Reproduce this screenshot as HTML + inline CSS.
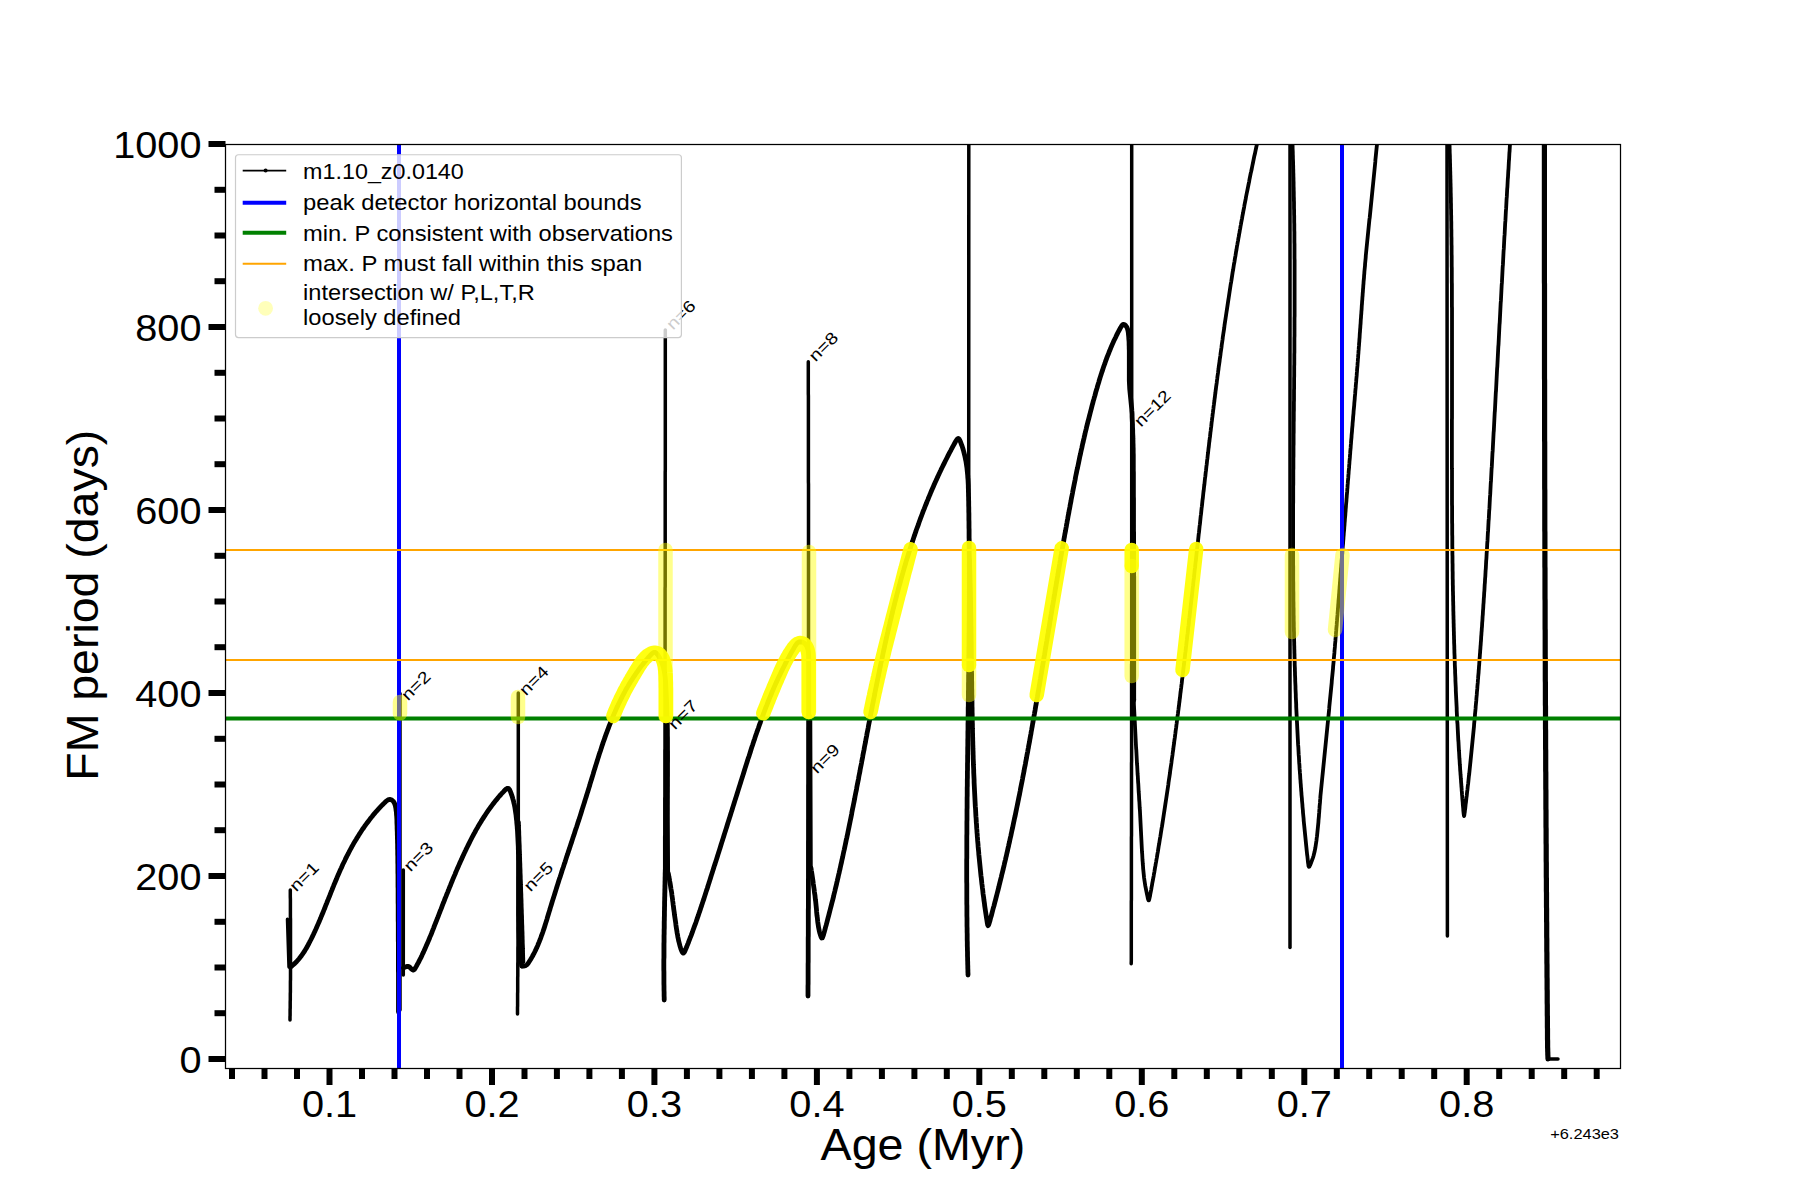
<!DOCTYPE html><html><head><meta charset="utf-8"><style>html,body{margin:0;padding:0;background:#fff;width:1800px;height:1200px;overflow:hidden}svg{display:block}text{font-family:"Liberation Sans",sans-serif;fill:#000}</style></head><body>
<svg width="1800" height="1200" viewBox="0 0 1800 1200">
<rect width="1800" height="1200" fill="#fff"/>
<defs><clipPath id="ax"><rect x="225.5" y="144.3" width="1395" height="923.7"/></clipPath></defs>
<g clip-path="url(#ax)" fill="none" stroke="#000" stroke-width="4.8" stroke-linejoin="round" stroke-linecap="round">
<path d="M290.0,1020.0 L290.0,1016.8 L290.1,1015.4 L290.1,1013.7 L290.1,1011.8 L290.1,1009.9 L290.2,1007.9 L290.2,1005.9 L290.2,1003.9 L290.2,1001.9 L290.3,999.8 L290.3,997.8 L290.3,995.8 L290.3,993.8 L290.4,991.8 L290.4,989.8 L290.4,987.8 L290.4,985.7 L290.4,983.7 L290.4,981.7 L290.5,979.7 L290.5,977.7 L290.5,975.7 L290.5,973.6 L290.5,971.6 L290.5,969.6 L290.5,967.6 L290.5,965.6 L290.5,963.6 L290.5,961.6 L290.5,959.5 L290.5,957.5 L290.5,955.5 L290.5,953.5 L290.5,951.5 L290.5,949.5 L290.5,947.4 L290.5,945.4 L290.5,943.4 L290.5,941.4 L290.5,939.4 L290.5,937.4 L290.5,935.3 L290.5,933.3 L290.5,931.3 L290.5,929.3 L290.5,927.3 L290.5,925.3 L290.5,923.3 L290.5,921.2 L290.5,919.2 L290.4,917.2 L290.4,915.2 L290.4,913.2 L290.4,911.2 L290.4,909.1 L290.4,907.1 L290.4,905.1 L290.4,903.1 L290.4,901.1 L290.4,899.1 L290.3,897.2 L290.3,895.5 L290.3,893.9 L290.3,892.5 L290.3,890.0" stroke-width="3.5"/>
<path d="M287.5,919.2 L289.0,967.0" stroke-width="3.5"/>
<path d="M290.5,967.0 L292.3,965.6 L293.6,964.4 L295.1,963.1 L296.5,961.7 L297.8,960.2 L299.1,958.7 L300.4,957.1 L301.6,955.5 L302.7,953.9 L303.9,952.2 L304.9,950.5 L306.0,948.8 L307.0,947.0 L307.9,945.3 L308.9,943.5 L309.8,941.7 L310.7,940.0 L311.6,938.2 L312.5,936.4 L313.4,934.5 L314.2,932.7 L315.1,930.9 L315.9,929.1 L316.7,927.3 L317.5,925.4 L318.3,923.6 L319.1,921.7 L319.9,919.9 L320.7,918.0 L321.4,916.2 L322.2,914.3 L323.0,912.5 L323.7,910.6 L324.5,908.8 L325.2,906.9 L325.9,905.0 L326.7,903.2 L327.4,901.3 L328.2,899.4 L328.9,897.6 L329.7,895.7 L330.4,893.8 L331.1,892.0 L331.9,890.1 L332.6,888.3 L333.4,886.4 L334.1,884.5 L334.9,882.7 L335.7,880.8 L336.5,879.0 L337.2,877.1 L338.0,875.3 L338.8,873.5 L339.6,871.6 L340.4,869.8 L341.3,868.0 L342.1,866.1 L342.9,864.3 L343.8,862.5 L344.7,860.7 L345.5,858.9 L346.4,857.1 L347.3,855.3 L348.3,853.5 L349.2,851.7 L350.1,850.0 L351.1,848.2 L352.0,846.4 L353.0,844.7 L354.0,842.9 L355.0,841.2 L356.1,839.5 L357.1,837.8 L358.2,836.1 L359.2,834.4 L360.3,832.7 L361.4,831.0 L362.5,829.3 L363.7,827.7 L364.8,826.0 L366.0,824.4 L367.2,822.8 L368.4,821.2 L369.6,819.6 L370.8,818.0 L372.1,816.5 L373.3,814.9 L374.6,813.4 L375.9,811.8 L377.3,810.3 L378.6,808.9 L380.0,807.4 L381.4,805.9 L382.8,804.5 L384.2,803.1 L385.6,801.7 L387.1,800.5 L388.6,799.6 L390.2,799.4 L391.8,800.0 L393.2,801.2 L394.3,802.8 L395.0,804.6 L395.5,806.5 L395.9,808.5 L396.1,810.4 L396.4,812.4 L396.5,814.4 L396.7,816.4 L396.8,818.4 L396.9,820.4 L396.9,822.4 L397.0,824.5 L397.1,826.5 L397.1,828.5 L397.2,830.5 L397.3,832.5 L397.3,834.5 L397.4,836.5 L397.4,838.5 L397.5,840.5 L397.5,842.5 L397.6,844.5 L397.6,846.5 L397.6,848.5 L397.7,850.5 L397.7,852.5 L397.7,854.5 L397.8,856.5 L397.8,858.5 L397.8,860.6 L397.8,862.6 L397.9,864.6 L397.9,866.6 L397.9,868.6 L397.9,870.6 L397.9,872.6 L398.0,874.6 L398.0,876.6 L398.0,878.6 L398.0,880.6 L398.0,882.6 L398.0,884.6 L398.0,886.6 L398.1,888.6 L398.1,890.6 L398.1,892.6 L398.1,894.7 L398.1,896.7 L398.1,898.7 L398.1,900.7 L398.1,902.7 L398.2,904.7 L398.2,906.7 L398.2,908.7 L398.2,910.7 L398.2,912.7 L398.2,914.7 L398.2,916.7 L398.2,918.7 L398.2,920.7 L398.3,922.7 L398.3,924.7 L398.3,926.7 L398.3,928.8 L398.3,930.8 L398.3,932.8 L398.3,934.8 L398.3,936.8 L398.3,938.8 L398.3,940.8 L398.4,942.8 L398.4,944.8 L398.4,946.8 L398.4,948.8 L398.4,950.8 L398.4,952.8 L398.4,954.8 L398.4,956.8 L398.4,958.8 L398.4,960.8 L398.4,962.9 L398.4,964.9 L398.4,966.9 L398.4,968.9 L398.4,970.9 L398.5,972.9 L398.5,974.9 L398.5,976.9 L398.5,978.9 L398.5,980.9 L398.5,982.9 L398.5,984.9 L398.5,986.9 L398.5,988.9 L398.5,990.9 L398.5,992.9 L398.5,994.9 L398.5,997.0 L398.5,999.0 L398.5,1001.0 L398.5,1003.0 L398.5,1005.0 L398.5,1007.0 L398.5,1008.9 L398.5,1010.4 L398.5,1012.0" stroke-width="4.8"/>
<path d="M400.0,693.5 L400.0,1010.0" stroke-width="3.5"/>
<path d="M403.3,870.0 L403.3,975.0" stroke-width="3.5"/>
<path d="M403.5,968.0 L405.4,966.9 L406.8,966.4 L408.3,966.4 L409.7,967.2 L410.9,968.5 L412.1,969.6 L413.2,970.1 L414.3,969.5 L415.3,968.1 L416.3,966.4 L417.2,964.7 L418.2,962.9 L419.1,961.1 L420.0,959.3 L420.9,957.6 L421.8,955.7 L422.6,953.9 L423.5,952.1 L424.3,950.3 L425.1,948.5 L425.9,946.6 L426.7,944.8 L427.5,943.0 L428.3,941.1 L429.1,939.3 L429.8,937.4 L430.6,935.6 L431.4,933.7 L432.1,931.8 L432.8,930.0 L433.6,928.1 L434.3,926.2 L435.0,924.4 L435.8,922.5 L436.5,920.6 L437.2,918.8 L438.0,916.9 L438.7,915.0 L439.4,913.2 L440.1,911.3 L440.9,909.4 L441.6,907.6 L442.3,905.7 L443.0,903.8 L443.8,902.0 L444.5,900.1 L445.2,898.2 L446.0,896.4 L446.7,894.5 L447.5,892.6 L448.2,890.8 L449.0,888.9 L449.7,887.0 L450.5,885.2 L451.2,883.3 L452.0,881.5 L452.7,879.6 L453.5,877.8 L454.3,875.9 L455.1,874.1 L455.8,872.2 L456.6,870.4 L457.4,868.5 L458.2,866.7 L459.0,864.9 L459.8,863.0 L460.6,861.2 L461.5,859.4 L462.3,857.5 L463.1,855.7 L464.0,853.9 L464.8,852.1 L465.7,850.3 L466.5,848.5 L467.4,846.7 L468.3,844.9 L469.2,843.1 L470.1,841.3 L471.0,839.5 L471.9,837.7 L472.9,835.9 L473.8,834.2 L474.8,832.4 L475.7,830.6 L476.7,828.9 L477.7,827.2 L478.7,825.4 L479.7,823.7 L480.8,822.0 L481.8,820.3 L482.9,818.6 L484.0,816.9 L485.1,815.2 L486.2,813.5 L487.3,811.9 L488.5,810.2 L489.6,808.6 L490.8,807.0 L492.0,805.4 L493.2,803.8 L494.4,802.2 L495.7,800.6 L497.0,799.1 L498.2,797.5 L499.5,796.0 L500.9,794.5 L502.2,793.0 L503.6,791.6 L504.9,790.1 L506.3,788.9 L507.6,788.3 L508.7,788.6 L509.6,789.8 L510.4,791.5 L511.1,793.4 L511.8,795.3 L512.4,797.2 L512.9,799.1 L513.5,801.0 L513.9,803.0 L514.4,805.0 L514.8,806.9 L515.1,808.9 L515.4,810.9 L515.7,812.9 L516.0,814.8 L516.2,816.8 L516.4,818.8 L516.7,820.8 L516.8,822.8 L517.0,824.8 L517.2,826.8 L517.3,828.8 L517.5,830.8 L517.6,832.8 L517.7,834.8 L517.8,836.8 L517.9,838.8 L518.0,840.8 L518.1,842.8 L518.2,844.8 L518.3,846.8 L518.3,848.8 L518.4,850.8 L518.4,852.8 L518.5,854.8 L518.5,856.9 L518.5,858.9 L518.6,860.9 L518.6,862.9 L518.6,864.9 L518.6,866.9 L518.6,868.9 L518.6,870.9 L518.6,872.9 L518.6,874.9 L518.6,876.9 L518.6,878.9 L518.6,880.9 L518.6,882.9 L518.6,884.9 L518.6,886.9 L518.6,888.9 L518.6,890.9 L518.6,892.9 L518.6,894.9 L518.6,897.0 L518.6,899.0 L518.6,901.0 L518.6,903.0 L518.6,905.0 L518.6,907.0 L518.6,909.0 L518.6,911.0 L518.6,913.0 L518.6,915.0 L518.7,917.0 L518.7,919.0 L518.7,921.0 L518.8,923.0 L518.8,925.0 L518.9,927.0 L518.9,929.0 L519.0,931.0 L519.1,933.0 L519.2,935.0 L519.2,937.0 L519.3,939.0 L519.4,941.0 L519.6,943.0 L519.7,945.0 L519.8,947.0 L520.0,949.0 L520.1,951.0 L520.3,953.0 L520.5,955.0 L520.7,957.0 L520.9,959.0 L521.1,961.0 L521.3,962.9 L521.5,964.4 L521.7,966.0" stroke-width="4.8"/>
<path d="M518.3,693.0 L518.3,696.2 L518.3,697.6 L518.3,699.3 L518.3,701.1 L518.3,703.1 L518.3,705.1 L518.3,707.0 L518.3,709.1 L518.3,711.1 L518.3,713.1 L518.3,715.1 L518.3,717.1 L518.3,719.1 L518.3,721.1 L518.3,723.1 L518.3,725.1 L518.3,727.1 L518.3,729.1 L518.3,731.1 L518.3,733.1 L518.3,735.1 L518.3,737.1 L518.3,739.1 L518.3,741.2 L518.3,743.2 L518.3,745.2 L518.3,747.2 L518.3,749.2 L518.3,751.2 L518.3,753.2 L518.3,755.2 L518.3,757.2 L518.3,759.2 L518.3,761.2 L518.3,763.2 L518.3,765.2 L518.3,767.2 L518.3,769.2 L518.3,771.2 L518.3,773.3 L518.3,775.3 L518.3,777.3 L518.3,779.3 L518.3,781.3 L518.3,783.3 L518.3,785.3 L518.3,787.3 L518.3,789.3 L518.3,791.3 L518.3,793.3 L518.3,795.3 L518.3,797.3 L518.3,799.3 L518.3,801.3 L518.3,803.3 L518.3,805.4 L518.3,807.4 L518.3,809.4 L518.3,811.4 L518.3,813.4 L518.3,815.4 L518.3,817.4 L518.3,819.4 L518.3,821.4 L518.3,823.4 L518.3,825.4 L518.3,827.4 L518.3,829.4 L518.3,831.4 L518.3,833.4 L518.3,835.4 L518.3,837.5 L518.3,839.5 L518.3,841.5 L518.3,843.5 L518.3,845.5 L518.3,847.5 L518.3,849.5 L518.3,851.5 L518.3,853.5 L518.3,855.5 L518.3,857.5 L518.3,859.5 L518.3,861.5 L518.3,863.5 L518.3,865.5 L518.3,867.5 L518.3,869.6 L518.3,871.6 L518.3,873.6 L518.3,875.6 L518.2,877.6 L518.2,879.6 L518.2,881.6 L518.2,883.6 L518.2,885.6 L518.2,887.6 L518.2,889.6 L518.2,891.6 L518.2,893.6 L518.2,895.6 L518.2,897.6 L518.2,899.6 L518.2,901.7 L518.2,903.7 L518.2,905.7 L518.1,907.7 L518.1,909.7 L518.1,911.7 L518.1,913.7 L518.1,915.7 L518.1,917.7 L518.1,919.7 L518.1,921.7 L518.1,923.7 L518.1,925.7 L518.0,927.7 L518.0,929.7 L518.0,931.7 L518.0,933.8 L518.0,935.8 L518.0,937.8 L518.0,939.8 L518.0,941.8 L518.0,943.8 L518.0,945.8 L517.9,947.8 L517.9,949.8 L517.9,951.8 L517.9,953.8 L517.9,955.8 L517.9,957.8 L517.9,959.8 L517.9,961.8 L517.8,963.8 L517.8,965.9 L517.8,967.9 L517.8,969.9 L517.8,971.9 L517.8,973.9 L517.8,975.9 L517.7,977.9 L517.7,979.9 L517.7,981.9 L517.7,983.9 L517.7,985.9 L517.7,987.9 L517.7,989.9 L517.7,991.9 L517.6,993.9 L517.6,995.9 L517.6,997.9 L517.6,1000.0 L517.6,1001.9 L517.6,1003.9 L517.6,1005.9 L517.5,1007.7 L517.5,1009.4 L517.5,1010.8 L517.5,1014.0 L517.5,1014.0" stroke-width="3.5"/>
<path d="M519.0,822.0 L519.1,825.2 L519.2,826.6 L519.2,828.3 L519.3,830.2 L519.4,832.1 L519.4,834.1 L519.5,836.1 L519.6,838.1 L519.6,840.1 L519.7,842.1 L519.8,844.2 L519.9,846.2 L519.9,848.2 L520.0,850.2 L520.1,852.2 L520.1,854.2 L520.2,856.2 L520.3,858.3 L520.3,860.3 L520.4,862.3 L520.5,864.3 L520.5,866.3 L520.6,868.3 L520.7,870.3 L520.7,872.4 L520.8,874.4 L520.9,876.4 L520.9,878.4 L521.0,880.4 L521.1,882.4 L521.1,884.4 L521.2,886.5 L521.3,888.5 L521.3,890.5 L521.4,892.5 L521.5,894.5 L521.5,896.5 L521.6,898.5 L521.7,900.6 L521.7,902.6 L521.8,904.6 L521.8,906.6 L521.9,908.6 L522.0,910.6 L522.0,912.6 L522.1,914.7 L522.2,916.7 L522.2,918.7 L522.3,920.7 L522.3,922.7 L522.4,924.7 L522.5,926.7 L522.5,928.8 L522.6,930.8 L522.7,932.8 L522.7,934.8 L522.8,936.8 L522.8,938.8 L522.9,940.8 L522.9,942.9 L523.0,944.9 L523.1,946.9 L523.1,948.9 L523.2,950.9 L523.2,952.9 L523.3,954.8 L523.3,956.5 L523.4,958.1 L523.4,959.5 L523.5,962.0" stroke-width="3.5"/>
<path d="M522.0,966.0 L524.2,966.0 L525.6,965.6 L527.0,964.6 L528.2,963.2 L529.3,961.5 L530.4,959.8 L531.4,958.1 L532.4,956.4 L533.3,954.6 L534.3,952.8 L535.2,951.0 L536.0,949.2 L536.9,947.4 L537.7,945.6 L538.4,943.7 L539.2,941.9 L539.9,940.0 L540.7,938.1 L541.3,936.2 L542.0,934.3 L542.7,932.5 L543.3,930.6 L544.0,928.7 L544.6,926.8 L545.2,924.8 L545.8,922.9 L546.4,921.0 L547.0,919.1 L547.5,917.2 L548.1,915.3 L548.7,913.3 L549.3,911.4 L549.9,909.5 L550.4,907.6 L551.0,905.7 L551.6,903.7 L552.2,901.8 L552.8,899.9 L553.4,898.0 L554.0,896.1 L554.6,894.2 L555.2,892.3 L555.8,890.4 L556.4,888.4 L557.0,886.5 L557.6,884.6 L558.2,882.7 L558.8,880.8 L559.4,878.9 L560.1,877.0 L560.7,875.1 L561.3,873.2 L561.9,871.3 L562.5,869.4 L563.2,867.5 L563.8,865.6 L564.4,863.7 L565.1,861.8 L565.7,859.9 L566.3,857.9 L566.9,856.0 L567.6,854.1 L568.2,852.2 L568.8,850.3 L569.5,848.4 L570.1,846.5 L570.7,844.6 L571.4,842.7 L572.0,840.8 L572.6,838.9 L573.2,837.0 L573.9,835.1 L574.5,833.2 L575.1,831.3 L575.7,829.4 L576.4,827.5 L577.0,825.6 L577.6,823.7 L578.2,821.8 L578.9,819.9 L579.5,818.0 L580.1,816.1 L580.7,814.2 L581.3,812.2 L581.9,810.3 L582.5,808.4 L583.1,806.5 L583.7,804.6 L584.3,802.7 L584.9,800.8 L585.5,798.9 L586.1,797.0 L586.7,795.0 L587.3,793.1 L587.9,791.2 L588.5,789.3 L589.1,787.4 L589.7,785.5 L590.2,783.5 L590.8,781.6 L591.4,779.7 L592.0,777.8 L592.6,775.9 L593.2,773.9 L593.7,772.0 L594.3,770.1 L594.9,768.2 L595.5,766.3 L596.1,764.4 L596.7,762.5 L597.3,760.5 L597.9,758.6 L598.5,756.7 L599.1,754.8 L599.7,752.9 L600.4,751.0 L601.0,749.1 L601.6,747.2 L602.2,745.3 L602.9,743.4 L603.5,741.5 L604.2,739.6 L604.9,737.7 L605.5,735.8 L606.2,733.9 L606.9,732.1 L607.6,730.2 L608.3,728.3 L609.0,726.4 L609.7,724.6 L610.5,722.7 L611.2,720.8 L612.0,719.0 L612.7,717.1 L613.5,715.3 L614.3,713.4 L615.1,711.6 L615.9,709.8 L616.7,707.9 L617.6,706.1 L618.4,704.3 L619.3,702.5 L620.2,700.7 L621.1,698.9 L622.0,697.1 L622.9,695.3 L623.8,693.6 L624.8,691.8 L625.7,690.0 L626.7,688.3 L627.7,686.6 L628.7,684.8 L629.8,683.1 L630.8,681.4 L631.9,679.7 L633.0,678.0 L634.1,676.3 L635.2,674.7 L636.3,673.0 L637.5,671.4 L638.6,669.8 L639.8,668.1 L641.0,666.5 L642.3,665.0 L643.5,663.4 L644.8,661.8 L646.0,660.3 L647.3,658.8 L648.7,657.2 L650.0,655.7 L651.3,654.3 L652.7,653.0 L654.0,652.3 L655.3,652.4 L656.6,653.4 L657.7,654.8 L658.8,656.5 L659.8,658.2 L660.7,660.0 L661.5,661.9 L662.2,663.7 L662.8,665.6 L663.4,667.6 L663.8,669.5 L664.3,671.5 L664.6,673.4 L664.9,675.4 L665.2,677.4 L665.4,679.4 L665.6,681.4 L665.7,683.4 L665.8,685.4 L665.9,687.4 L666.0,689.4 L666.1,691.4 L666.2,693.4 L666.3,695.4 L666.4,697.4 L666.5,699.4 L666.5,701.4 L666.6,703.4 L666.7,705.4 L666.8,707.4 L666.8,709.4 L666.9,711.4 L666.9,713.4 L667.0,715.4 L667.0,717.4 L667.1,719.4 L667.1,721.4 L667.2,723.4 L667.2,725.5 L667.2,727.5 L667.3,729.5 L667.3,731.5 L667.3,733.5 L667.3,735.5 L667.4,737.5 L667.4,739.5 L667.4,741.5 L667.4,743.5 L667.4,745.5 L667.4,747.5 L667.4,749.5 L667.5,751.5 L667.5,753.5 L667.5,755.5 L667.5,757.5 L667.5,759.5 L667.5,761.5 L667.4,763.5 L667.4,765.5 L667.4,767.5 L667.4,769.5 L667.4,771.6 L667.4,773.6 L667.4,775.6 L667.3,777.6 L667.3,779.6 L667.3,781.6 L667.3,783.6 L667.3,785.6 L667.2,787.6 L667.2,789.6 L667.2,791.6 L667.1,793.6 L667.1,795.6 L667.1,797.6 L667.0,799.6 L667.0,801.6 L667.0,803.6 L666.9,805.6 L666.9,807.6 L666.9,809.6 L666.8,811.6 L666.8,813.6 L666.7,815.6 L666.7,817.6 L666.7,819.6 L666.6,821.7 L666.6,823.7 L666.5,825.7 L666.5,827.7 L666.4,829.7 L666.4,831.7 L666.3,833.7 L666.3,835.7 L666.2,837.7 L666.2,839.7 L666.1,841.7 L666.1,843.7 L666.0,845.7 L666.0,847.7 L665.9,849.7 L665.9,851.7 L665.8,853.7 L665.8,855.7 L665.7,857.7 L665.7,859.7 L665.6,861.7 L665.6,863.7 L665.5,865.7 L665.5,867.7 L665.4,869.7 L665.4,871.7 L665.3,873.7 L665.3,875.8 L665.2,877.8 L665.2,879.8 L665.1,881.8 L665.1,883.8 L665.0,885.8 L665.0,887.8 L664.9,889.8 L664.9,891.8 L664.8,893.8 L664.8,895.8 L664.7,897.8 L664.7,899.8 L664.6,901.8 L664.6,903.8 L664.6,905.8 L664.5,907.8 L664.5,909.8 L664.4,911.8 L664.4,913.8 L664.4,915.8 L664.3,917.8 L664.3,919.8 L664.2,921.8 L664.2,923.8 L664.2,925.8 L664.2,927.8 L664.1,929.9 L664.1,931.9 L664.1,933.9 L664.0,935.9 L664.0,937.9 L664.0,939.9 L664.0,941.9 L663.9,943.9 L663.9,945.9 L663.9,947.9 L663.9,949.9 L663.9,951.9 L663.9,953.9 L663.9,955.9 L663.9,957.9 L663.8,959.9 L663.8,961.9 L663.8,963.9 L663.8,965.9 L663.8,967.9 L663.8,969.9 L663.9,971.9 L663.9,973.9 L663.9,976.0 L663.9,978.0 L663.9,980.0 L663.9,982.0 L663.9,984.0 L664.0,986.0 L664.0,988.0 L664.0,990.0 L664.1,992.0 L664.1,994.0 L664.1,995.9 L664.2,997.7 L664.2,1000.0 L664.2,1000.0" stroke-width="4.8"/>
<path d="M665.3,330.0 L665.3,333.2 L665.3,334.6 L665.3,336.3 L665.3,338.1 L665.3,340.1 L665.3,342.0 L665.3,344.0 L665.3,346.0 L665.3,348.0 L665.3,350.0 L665.3,352.0 L665.3,354.0 L665.3,356.0 L665.3,358.0 L665.3,360.0 L665.3,362.0 L665.3,364.1 L665.3,366.1 L665.3,368.1 L665.3,370.1 L665.3,372.1 L665.3,374.1 L665.3,376.1 L665.3,378.1 L665.3,380.1 L665.3,382.1 L665.3,384.1 L665.3,386.1 L665.3,388.1 L665.3,390.1 L665.3,392.1 L665.3,394.1 L665.3,396.1 L665.3,398.1 L665.3,400.1 L665.3,402.1 L665.3,404.1 L665.3,406.1 L665.3,408.1 L665.3,410.1 L665.3,412.1 L665.3,414.1 L665.3,416.1 L665.3,418.1 L665.3,420.1 L665.3,422.1 L665.3,424.1 L665.3,426.1 L665.3,428.1 L665.3,430.1 L665.3,432.2 L665.3,434.2 L665.3,436.2 L665.3,438.2 L665.3,440.2 L665.3,442.2 L665.3,444.2 L665.3,446.2 L665.3,448.2 L665.3,450.2 L665.3,452.2 L665.3,454.2 L665.3,456.2 L665.3,458.2 L665.3,460.2 L665.3,462.2 L665.3,464.2 L665.3,466.2 L665.3,468.2 L665.3,470.2 L665.2,472.2 L665.2,474.2 L665.2,476.2 L665.2,478.2 L665.2,480.2 L665.2,482.2 L665.2,484.2 L665.2,486.2 L665.2,488.2 L665.2,490.2 L665.2,492.2 L665.2,494.2 L665.2,496.2 L665.2,498.3 L665.2,500.3 L665.2,502.3 L665.2,504.3 L665.2,506.3 L665.2,508.3 L665.2,510.3 L665.2,512.3 L665.2,514.3 L665.2,516.3 L665.2,518.3 L665.2,520.3 L665.2,522.3 L665.2,524.3 L665.2,526.3 L665.2,528.3 L665.2,530.3 L665.2,532.3 L665.2,534.3 L665.2,536.3 L665.2,538.3 L665.2,540.3 L665.2,542.3 L665.2,544.3 L665.2,546.3 L665.2,548.3 L665.2,550.3 L665.2,552.3 L665.2,554.3 L665.2,556.3 L665.2,558.3 L665.2,560.3 L665.2,562.3 L665.2,564.4 L665.2,566.4 L665.2,568.4 L665.2,570.4 L665.2,572.4 L665.2,574.4 L665.2,576.4 L665.2,578.4 L665.2,580.4 L665.2,582.4 L665.2,584.4 L665.2,586.4 L665.1,588.4 L665.1,590.4 L665.1,592.4 L665.1,594.4 L665.1,596.4 L665.1,598.4 L665.1,600.4 L665.1,602.4 L665.1,604.4 L665.1,606.4 L665.1,608.4 L665.1,610.4 L665.1,612.4 L665.1,614.4 L665.1,616.4 L665.1,618.4 L665.1,620.4 L665.1,622.4 L665.1,624.4 L665.1,626.4 L665.1,628.4 L665.1,630.4 L665.1,632.5 L665.1,634.5 L665.1,636.5 L665.1,638.5 L665.1,640.5 L665.1,642.5 L665.1,644.5 L665.1,646.5 L665.1,648.5 L665.1,650.5 L665.1,652.5 L665.1,654.5 L665.1,656.5 L665.1,658.5 L665.1,660.5 L665.1,662.5 L665.1,664.5 L665.1,666.5 L665.1,668.5 L665.1,670.5 L665.1,672.5 L665.1,674.5 L665.0,676.5 L665.0,678.5 L665.0,680.5 L665.0,682.5 L665.0,684.5 L665.0,686.5 L665.0,688.5 L665.0,690.5 L665.0,692.5 L665.0,694.5 L665.0,696.5 L665.0,698.6 L665.0,700.6 L665.0,702.6 L665.0,704.6 L665.0,706.6 L665.0,708.6 L665.0,710.6 L665.0,712.6 L665.0,714.6 L665.0,716.6 L665.0,718.6 L665.0,720.6 L665.0,722.6 L665.0,724.6 L665.0,726.6 L665.0,728.6 L665.0,730.6 L665.0,732.6 L665.0,734.6 L665.0,736.6 L665.0,738.6 L665.0,740.6 L665.0,742.6 L665.0,744.6 L665.0,746.6 L665.0,748.6 L664.9,750.6 L664.9,752.6 L664.9,754.6 L664.9,756.6 L664.9,758.6 L664.9,760.6 L664.9,762.6 L664.9,764.6 L664.9,766.7 L664.9,768.7 L664.9,770.7 L664.9,772.7 L664.9,774.7 L664.9,776.7 L664.9,778.7 L664.9,780.7 L664.9,782.7 L664.9,784.7 L664.9,786.7 L664.9,788.7 L664.9,790.7 L664.9,792.7 L664.9,794.7 L664.9,796.7 L664.8,798.7 L664.8,800.7 L664.8,802.7 L664.8,804.7 L664.8,806.7 L664.8,808.7 L664.8,810.7 L664.8,812.7 L664.8,814.7 L664.8,816.7 L664.8,818.7 L664.8,820.7 L664.8,822.7 L664.8,824.7 L664.8,826.7 L664.8,828.7 L664.8,830.7 L664.8,832.8 L664.8,834.8 L664.7,836.8 L664.7,838.8 L664.7,840.8 L664.7,842.8 L664.7,844.8 L664.7,846.8 L664.7,848.8 L664.7,850.8 L664.7,852.8 L664.7,854.8 L664.7,856.8 L664.7,858.8 L664.7,860.8 L664.7,862.8 L664.7,864.8 L664.7,866.8 L664.7,868.8 L664.6,870.8 L664.6,872.8 L664.6,874.8 L664.6,876.8 L664.6,878.8 L664.6,880.8 L664.6,882.8 L664.6,884.8 L664.6,886.8 L664.6,888.8 L664.6,890.8 L664.6,892.8 L664.6,894.8 L664.6,896.8 L664.6,898.8 L664.6,900.9 L664.5,902.9 L664.5,904.9 L664.5,906.9 L664.5,908.9 L664.5,910.9 L664.5,912.9 L664.5,914.9 L664.5,916.9 L664.5,918.9 L664.5,920.9 L664.5,922.9 L664.5,924.9 L664.5,926.9 L664.5,928.9 L664.4,930.9 L664.4,932.9 L664.4,934.9 L664.4,936.9 L664.4,938.9 L664.4,940.9 L664.4,942.9 L664.4,944.9 L664.4,946.9 L664.4,948.9 L664.4,950.9 L664.4,952.9 L664.4,954.9 L664.4,956.9 L664.3,958.9 L664.3,960.9 L664.3,962.9 L664.3,964.9 L664.3,967.0 L664.3,969.0 L664.3,971.0 L664.3,973.0 L664.3,975.0 L664.3,977.0 L664.3,979.0 L664.3,981.0 L664.3,983.0 L664.3,985.0 L664.2,987.0 L664.2,989.0 L664.2,990.9 L664.2,992.8 L664.2,994.6 L664.2,996.2 L664.2,997.5 L664.2,1000.0" stroke-width="3.5"/>
<path d="M667.5,716.0 L668.3,873.3" stroke-width="3.5"/>
<path d="M668.3,873.3 L668.7,875.6 L669.0,877.3 L669.4,879.2 L669.7,881.2 L670.1,883.2 L670.4,885.1 L670.7,887.1 L671.0,889.1 L671.4,891.1 L671.7,893.0 L671.9,895.0 L672.2,897.0 L672.5,899.0 L672.7,901.0 L673.0,903.0 L673.2,905.0 L673.5,906.9 L673.7,908.9 L674.0,910.9 L674.3,912.9 L674.5,914.9 L674.8,916.9 L675.1,918.9 L675.4,920.8 L675.7,922.8 L675.9,924.8 L676.2,926.8 L676.5,928.8 L676.8,930.7 L677.1,932.7 L677.5,934.7 L677.8,936.7 L678.2,938.6 L678.6,940.6 L679.1,942.5 L679.6,944.5 L680.1,946.4 L680.7,948.3 L681.4,950.2 L682.1,951.8 L682.9,953.0 L683.6,953.1 L684.4,952.1 L685.2,950.5 L685.9,948.7 L686.7,946.8 L687.4,945.0 L688.2,943.1 L688.9,941.2 L689.6,939.4 L690.3,937.5 L691.1,935.6 L691.8,933.7 L692.5,931.9 L693.1,930.0 L693.8,928.1 L694.5,926.2 L695.2,924.3 L695.9,922.5 L696.5,920.6 L697.2,918.7 L697.8,916.8 L698.5,914.9 L699.1,913.0 L699.8,911.1 L700.4,909.2 L701.0,907.3 L701.7,905.4 L702.3,903.5 L702.9,901.6 L703.6,899.7 L704.2,897.8 L704.8,895.9 L705.4,894.0 L706.0,892.1 L706.6,890.2 L707.3,888.3 L707.9,886.3 L708.5,884.4 L709.1,882.5 L709.7,880.6 L710.3,878.7 L710.9,876.8 L711.5,874.9 L712.1,873.0 L712.7,871.1 L713.3,869.2 L713.9,867.3 L714.5,865.4 L715.2,863.4 L715.8,861.5 L716.4,859.6 L717.0,857.7 L717.6,855.8 L718.2,853.9 L718.8,852.0 L719.4,850.1 L720.0,848.2 L720.6,846.3 L721.2,844.3 L721.8,842.4 L722.4,840.5 L723.0,838.6 L723.6,836.7 L724.2,834.8 L724.8,832.9 L725.4,831.0 L726.0,829.1 L726.6,827.2 L727.2,825.2 L727.8,823.3 L728.4,821.4 L729.0,819.5 L729.6,817.6 L730.2,815.7 L730.8,813.8 L731.4,811.9 L732.0,810.0 L732.6,808.0 L733.2,806.1 L733.8,804.2 L734.4,802.3 L735.0,800.4 L735.6,798.5 L736.2,796.6 L736.8,794.7 L737.4,792.8 L738.0,790.9 L738.6,788.9 L739.2,787.0 L739.8,785.1 L740.4,783.2 L741.0,781.3 L741.6,779.4 L742.2,777.5 L742.8,775.6 L743.4,773.7 L744.0,771.7 L744.6,769.8 L745.2,767.9 L745.8,766.0 L746.4,764.1 L747.0,762.2 L747.6,760.3 L748.2,758.4 L748.9,756.5 L749.5,754.6 L750.1,752.7 L750.7,750.7 L751.3,748.8 L751.9,746.9 L752.6,745.0 L753.2,743.1 L753.8,741.2 L754.5,739.3 L755.1,737.4 L755.7,735.5 L756.4,733.6 L757.0,731.8 L757.7,729.9 L758.4,728.0 L759.0,726.1 L759.7,724.2 L760.4,722.3 L761.0,720.4 L761.7,718.5 L762.4,716.7 L763.1,714.8 L763.8,712.9 L764.5,711.0 L765.2,709.2 L765.9,707.3 L766.7,705.4 L767.4,703.6 L768.1,701.7 L768.9,699.8 L769.6,698.0 L770.4,696.1 L771.2,694.3 L771.9,692.4 L772.7,690.6 L773.5,688.8 L774.3,686.9 L775.1,685.1 L775.9,683.3 L776.8,681.4 L777.6,679.6 L778.4,677.8 L779.3,676.0 L780.2,674.2 L781.0,672.4 L781.9,670.6 L782.8,668.8 L783.7,667.0 L784.6,665.2 L785.5,663.4 L786.4,661.6 L787.4,659.9 L788.3,658.1 L789.3,656.3 L790.2,654.6 L791.2,652.8 L792.2,651.1 L793.2,649.4 L794.2,647.6 L795.2,645.9 L796.3,644.3 L797.5,642.9 L799.0,642.0 L800.7,641.8 L802.5,642.2 L804.2,643.0 L805.5,644.3 L806.6,645.9 L807.3,647.7 L807.9,649.6 L808.3,651.6 L808.5,653.5 L808.6,655.5 L808.7,657.5 L808.7,659.5 L808.7,661.5 L808.7,663.5 L808.7,665.5 L808.7,667.5 L808.7,669.5 L808.7,671.5 L808.7,673.5 L808.7,675.5 L808.7,677.6 L808.7,679.6 L808.7,681.6 L808.7,683.6 L808.7,685.6 L808.7,687.6 L808.7,689.6 L808.7,691.6 L808.7,693.6 L808.7,695.6 L808.7,697.6 L808.7,699.6 L808.7,701.6 L808.7,703.6 L808.7,705.6 L808.7,707.6 L808.7,709.6 L808.7,711.6 L808.7,713.6 L808.7,715.6 L808.7,717.6 L808.7,719.6 L808.7,721.6 L808.7,723.6 L808.7,725.6 L808.7,727.6 L808.7,729.6 L808.7,731.6 L808.7,733.6 L808.7,735.6 L808.7,737.6 L808.7,739.6 L808.7,741.6 L808.7,743.6 L808.7,745.6 L808.7,747.7 L808.7,749.7 L808.7,751.7 L808.7,753.7 L808.7,755.7 L808.7,757.7 L808.7,759.7 L808.7,761.7 L808.7,763.7 L808.7,765.7 L808.7,767.7 L808.7,769.7 L808.7,771.7 L808.7,773.7 L808.7,775.7 L808.7,777.7 L808.7,779.7 L808.7,781.7 L808.7,783.7 L808.6,785.7 L808.6,787.7 L808.6,789.7 L808.6,791.7 L808.6,793.7 L808.6,795.7 L808.6,797.7 L808.6,799.7 L808.6,801.7 L808.6,803.7 L808.6,805.7 L808.6,807.7 L808.6,809.7 L808.6,811.7 L808.6,813.7 L808.6,815.7 L808.6,817.7 L808.6,819.8 L808.6,821.8 L808.6,823.8 L808.6,825.8 L808.6,827.8 L808.6,829.8 L808.6,831.8 L808.6,833.8 L808.6,835.8 L808.6,837.8 L808.6,839.8 L808.5,841.8 L808.5,843.8 L808.5,845.8 L808.5,847.8 L808.5,849.8 L808.5,851.8 L808.5,853.8 L808.5,855.8 L808.5,857.8 L808.5,859.8 L808.5,861.8 L808.5,863.8 L808.5,865.8 L808.5,867.8 L808.5,869.8 L808.5,871.8 L808.5,873.8 L808.5,875.8 L808.5,877.8 L808.4,879.8 L808.4,881.8 L808.4,883.8 L808.4,885.8 L808.4,887.8 L808.4,889.9 L808.4,891.9 L808.4,893.9 L808.4,895.9 L808.4,897.9 L808.4,899.9 L808.4,901.9 L808.4,903.9 L808.4,905.9 L808.4,907.9 L808.3,909.9 L808.3,911.9 L808.3,913.9 L808.3,915.9 L808.3,917.9 L808.3,919.9 L808.3,921.9 L808.3,923.9 L808.3,925.9 L808.3,927.9 L808.3,929.9 L808.3,931.9 L808.3,933.9 L808.3,935.9 L808.2,937.9 L808.2,939.9 L808.2,941.9 L808.2,943.9 L808.2,945.9 L808.2,947.9 L808.2,949.9 L808.2,951.9 L808.2,953.9 L808.2,955.9 L808.2,957.9 L808.2,959.9 L808.2,962.0 L808.1,964.0 L808.1,966.0 L808.1,968.0 L808.1,970.0 L808.1,972.0 L808.1,974.0 L808.1,976.0 L808.1,978.0 L808.1,980.0 L808.1,982.0 L808.1,984.0 L808.0,986.0 L808.0,988.0 L808.0,990.0 L808.0,991.9 L808.0,993.7 L808.0,996.0 L808.0,996.0" stroke-width="4.8"/>
<path d="M808.3,361.7 L808.3,364.9 L808.3,366.3 L808.3,368.0 L808.3,369.8 L808.3,371.8 L808.3,373.7 L808.3,375.7 L808.3,377.7 L808.3,379.7 L808.3,381.7 L808.3,383.7 L808.3,385.7 L808.3,387.8 L808.3,389.8 L808.3,391.8 L808.3,393.8 L808.4,395.8 L808.4,397.8 L808.4,399.8 L808.4,401.8 L808.4,403.8 L808.4,405.8 L808.4,407.8 L808.4,409.8 L808.4,411.8 L808.4,413.8 L808.4,415.8 L808.4,417.8 L808.4,419.8 L808.4,421.8 L808.4,423.8 L808.4,425.8 L808.4,427.8 L808.4,429.8 L808.4,431.8 L808.4,433.8 L808.4,435.9 L808.4,437.9 L808.4,439.9 L808.4,441.9 L808.4,443.9 L808.4,445.9 L808.4,447.9 L808.4,449.9 L808.4,451.9 L808.4,453.9 L808.4,455.9 L808.4,457.9 L808.4,459.9 L808.4,461.9 L808.4,463.9 L808.4,465.9 L808.4,467.9 L808.4,469.9 L808.4,471.9 L808.4,473.9 L808.4,475.9 L808.4,477.9 L808.4,479.9 L808.4,481.9 L808.5,484.0 L808.5,486.0 L808.5,488.0 L808.5,490.0 L808.5,492.0 L808.5,494.0 L808.5,496.0 L808.5,498.0 L808.5,500.0 L808.5,502.0 L808.5,504.0 L808.5,506.0 L808.5,508.0 L808.5,510.0 L808.5,512.0 L808.5,514.0 L808.5,516.0 L808.5,518.0 L808.5,520.0 L808.5,522.0 L808.5,524.0 L808.5,526.0 L808.5,528.0 L808.5,530.0 L808.5,532.0 L808.5,534.1 L808.5,536.1 L808.5,538.1 L808.5,540.1 L808.5,542.1 L808.5,544.1 L808.5,546.1 L808.5,548.1 L808.5,550.1 L808.5,552.1 L808.5,554.1 L808.5,556.1 L808.5,558.1 L808.5,560.1 L808.5,562.1 L808.5,564.1 L808.5,566.1 L808.5,568.1 L808.5,570.1 L808.5,572.1 L808.5,574.1 L808.5,576.1 L808.5,578.1 L808.5,580.1 L808.5,582.2 L808.5,584.2 L808.5,586.2 L808.5,588.2 L808.5,590.2 L808.5,592.2 L808.5,594.2 L808.5,596.2 L808.5,598.2 L808.5,600.2 L808.5,602.2 L808.5,604.2 L808.5,606.2 L808.5,608.2 L808.5,610.2 L808.5,612.2 L808.5,614.2 L808.5,616.2 L808.5,618.2 L808.5,620.2 L808.5,622.2 L808.5,624.2 L808.5,626.2 L808.5,628.2 L808.5,630.3 L808.5,632.3 L808.5,634.3 L808.5,636.3 L808.5,638.3 L808.5,640.3 L808.5,642.3 L808.5,644.3 L808.5,646.3 L808.5,648.3 L808.5,650.3 L808.5,652.3 L808.5,654.3 L808.5,656.3 L808.5,658.3 L808.5,660.3 L808.5,662.3 L808.5,664.3 L808.5,666.3 L808.5,668.3 L808.5,670.3 L808.5,672.3 L808.5,674.3 L808.5,676.3 L808.5,678.3 L808.5,680.4 L808.5,682.4 L808.5,684.4 L808.5,686.4 L808.5,688.4 L808.5,690.4 L808.5,692.4 L808.5,694.4 L808.5,696.4 L808.5,698.4 L808.5,700.4 L808.5,702.4 L808.5,704.4 L808.5,706.4 L808.5,708.4 L808.5,710.4 L808.5,712.4 L808.5,714.4 L808.5,716.4 L808.5,718.4 L808.5,720.4 L808.5,722.4 L808.5,724.4 L808.5,726.4 L808.4,728.5 L808.4,730.5 L808.4,732.5 L808.4,734.5 L808.4,736.5 L808.4,738.5 L808.4,740.5 L808.4,742.5 L808.4,744.5 L808.4,746.5 L808.4,748.5 L808.4,750.5 L808.4,752.5 L808.4,754.5 L808.4,756.5 L808.4,758.5 L808.4,760.5 L808.4,762.5 L808.4,764.5 L808.4,766.5 L808.4,768.5 L808.4,770.5 L808.4,772.5 L808.4,774.5 L808.4,776.6 L808.4,778.6 L808.4,780.6 L808.4,782.6 L808.4,784.6 L808.4,786.6 L808.4,788.6 L808.4,790.6 L808.4,792.6 L808.4,794.6 L808.4,796.6 L808.4,798.6 L808.4,800.6 L808.4,802.6 L808.4,804.6 L808.4,806.6 L808.4,808.6 L808.4,810.6 L808.4,812.6 L808.4,814.6 L808.4,816.6 L808.4,818.6 L808.3,820.6 L808.3,822.6 L808.3,824.6 L808.3,826.7 L808.3,828.7 L808.3,830.7 L808.3,832.7 L808.3,834.7 L808.3,836.7 L808.3,838.7 L808.3,840.7 L808.3,842.7 L808.3,844.7 L808.3,846.7 L808.3,848.7 L808.3,850.7 L808.3,852.7 L808.3,854.7 L808.3,856.7 L808.3,858.7 L808.3,860.7 L808.3,862.7 L808.3,864.7 L808.3,866.7 L808.3,868.7 L808.3,870.7 L808.3,872.7 L808.3,874.8 L808.3,876.8 L808.3,878.8 L808.3,880.8 L808.2,882.8 L808.2,884.8 L808.2,886.8 L808.2,888.8 L808.2,890.8 L808.2,892.8 L808.2,894.8 L808.2,896.8 L808.2,898.8 L808.2,900.8 L808.2,902.8 L808.2,904.8 L808.2,906.8 L808.2,908.8 L808.2,910.8 L808.2,912.8 L808.2,914.8 L808.2,916.8 L808.2,918.8 L808.2,920.8 L808.2,922.9 L808.2,924.9 L808.2,926.9 L808.2,928.9 L808.2,930.9 L808.1,932.9 L808.1,934.9 L808.1,936.9 L808.1,938.9 L808.1,940.9 L808.1,942.9 L808.1,944.9 L808.1,946.9 L808.1,948.9 L808.1,950.9 L808.1,952.9 L808.1,954.9 L808.1,956.9 L808.1,958.9 L808.1,960.9 L808.1,962.9 L808.1,964.9 L808.1,966.9 L808.1,968.9 L808.1,970.9 L808.1,973.0 L808.1,975.0 L808.0,977.0 L808.0,979.0 L808.0,981.0 L808.0,983.0 L808.0,985.0 L808.0,986.9 L808.0,988.8 L808.0,990.6 L808.0,992.2 L808.0,993.5 L808.0,996.0" stroke-width="3.5"/>
<path d="M810.5,716.0 L811.0,868.0" stroke-width="3.5"/>
<path d="M811.0,868.0 L811.3,870.3 L811.6,872.0 L811.9,873.9 L812.2,875.9 L812.5,877.9 L812.8,879.9 L813.1,881.9 L813.3,883.8 L813.6,885.8 L813.9,887.8 L814.2,889.8 L814.4,891.8 L814.7,893.8 L815.0,895.7 L815.2,897.7 L815.4,899.7 L815.7,901.7 L815.9,903.7 L816.1,905.7 L816.3,907.7 L816.5,909.7 L816.6,911.7 L816.8,913.7 L817.0,915.7 L817.3,917.6 L817.5,919.6 L817.7,921.6 L818.0,923.6 L818.3,925.6 L818.6,927.6 L819.0,929.5 L819.4,931.5 L819.9,933.4 L820.5,935.3 L821.1,937.0 L821.7,938.0 L822.3,937.9 L822.8,936.8 L823.4,935.1 L823.9,933.2 L824.5,931.2 L825.0,929.3 L825.5,927.4 L826.1,925.4 L826.6,923.5 L827.1,921.6 L827.6,919.6 L828.1,917.7 L828.6,915.8 L829.1,913.8 L829.6,911.9 L830.1,910.0 L830.6,908.0 L831.1,906.1 L831.6,904.1 L832.1,902.2 L832.6,900.3 L833.1,898.3 L833.6,896.4 L834.0,894.4 L834.5,892.5 L835.0,890.5 L835.4,888.6 L835.9,886.6 L836.4,884.7 L836.8,882.7 L837.3,880.8 L837.7,878.8 L838.2,876.9 L838.6,874.9 L839.1,873.0 L839.5,871.0 L840.0,869.1 L840.4,867.1 L840.8,865.2 L841.3,863.2 L841.7,861.3 L842.1,859.3 L842.6,857.4 L843.0,855.4 L843.4,853.4 L843.8,851.5 L844.3,849.5 L844.7,847.6 L845.1,845.6 L845.5,843.7 L845.9,841.7 L846.3,839.7 L846.8,837.8 L847.2,835.8 L847.6,833.9 L848.0,831.9 L848.4,829.9 L848.8,828.0 L849.2,826.0 L849.6,824.1 L850.0,822.1 L850.4,820.1 L850.8,818.2 L851.2,816.2 L851.6,814.2 L851.9,812.3 L852.3,810.3 L852.7,808.3 L853.1,806.4 L853.5,804.4 L853.9,802.5 L854.3,800.5 L854.7,798.5 L855.0,796.6 L855.4,794.6 L855.8,792.6 L856.2,790.7 L856.6,788.7 L856.9,786.7 L857.3,784.8 L857.7,782.8 L858.1,780.8 L858.5,778.9 L858.8,776.9 L859.2,774.9 L859.6,773.0 L860.0,771.0 L860.3,769.0 L860.7,767.1 L861.1,765.1 L861.5,763.1 L861.8,761.2 L862.2,759.2 L862.6,757.2 L862.9,755.3 L863.3,753.3 L863.7,751.3 L864.1,749.4 L864.4,747.4 L864.8,745.4 L865.2,743.5 L865.6,741.5 L865.9,739.5 L866.3,737.6 L866.7,735.6 L867.0,733.6 L867.4,731.7 L867.8,729.7 L868.2,727.7 L868.5,725.8 L868.9,723.8 L869.3,721.8 L869.7,719.9 L870.1,717.9 L870.4,715.9 L870.8,714.0 L871.2,712.0 L871.6,710.0 L872.0,708.1 L872.3,706.1 L872.7,704.1 L873.1,702.2 L873.5,700.2 L873.9,698.3 L874.3,696.3 L874.7,694.3 L875.0,692.4 L875.4,690.4 L875.8,688.4 L876.2,686.5 L876.6,684.5 L877.0,682.5 L877.4,680.6 L877.8,678.6 L878.2,676.7 L878.6,674.7 L879.0,672.7 L879.4,670.8 L879.8,668.8 L880.2,666.9 L880.6,664.9 L881.0,662.9 L881.4,661.0 L881.9,659.0 L882.3,657.1 L882.7,655.1 L883.1,653.1 L883.5,651.2 L884.0,649.2 L884.4,647.3 L884.8,645.3 L885.2,643.4 L885.7,641.4 L886.1,639.5 L886.5,637.5 L887.0,635.5 L887.4,633.6 L887.9,631.6 L888.3,629.7 L888.8,627.7 L889.2,625.8 L889.7,623.8 L890.1,621.9 L890.6,619.9 L891.1,618.0 L891.5,616.0 L892.0,614.1 L892.5,612.2 L892.9,610.2 L893.4,608.3 L893.9,606.3 L894.4,604.4 L894.9,602.4 L895.4,600.5 L895.9,598.6 L896.4,596.6 L896.9,594.7 L897.4,592.7 L897.9,590.8 L898.4,588.9 L898.9,586.9 L899.5,585.0 L900.0,583.1 L900.5,581.1 L901.0,579.2 L901.6,577.3 L902.1,575.4 L902.7,573.4 L903.2,571.5 L903.8,569.6 L904.3,567.7 L904.9,565.7 L905.5,563.8 L906.0,561.9 L906.6,560.0 L907.2,558.1 L907.8,556.2 L908.4,554.3 L909.0,552.3 L909.6,550.4 L910.2,548.5 L910.8,546.6 L911.4,544.7 L912.0,542.8 L912.7,540.9 L913.3,539.0 L913.9,537.1 L914.6,535.2 L915.2,533.3 L915.9,531.4 L916.5,529.5 L917.2,527.7 L917.9,525.8 L918.6,523.9 L919.2,522.0 L919.9,520.1 L920.6,518.2 L921.3,516.4 L922.0,514.5 L922.7,512.6 L923.4,510.7 L924.2,508.9 L924.9,507.0 L925.6,505.2 L926.4,503.3 L927.1,501.4 L927.9,499.6 L928.6,497.7 L929.4,495.9 L930.2,494.0 L930.9,492.2 L931.7,490.3 L932.5,488.5 L933.3,486.7 L934.1,484.8 L934.9,483.0 L935.7,481.2 L936.6,479.4 L937.4,477.5 L938.2,475.7 L939.1,473.9 L939.9,472.1 L940.8,470.3 L941.6,468.5 L942.5,466.7 L943.4,464.9 L944.3,463.1 L945.2,461.3 L946.1,459.5 L947.0,457.7 L947.9,455.9 L948.8,454.1 L949.7,452.4 L950.7,450.6 L951.6,448.8 L952.5,447.1 L953.5,445.3 L954.5,443.5 L955.4,441.8 L956.4,440.2 L957.4,438.9 L958.3,438.5 L959.2,439.2 L960.0,440.6 L960.7,442.4 L961.4,444.3 L962.1,446.1 L962.7,448.0 L963.3,450.0 L963.8,451.9 L964.3,453.8 L964.8,455.8 L965.2,457.7 L965.6,459.7 L966.0,461.6 L966.3,463.6 L966.6,465.6 L966.9,467.6 L967.1,469.6 L967.3,471.6 L967.5,473.6 L967.7,475.6 L967.8,477.5 L968.0,479.5 L968.1,481.5 L968.2,483.5 L968.3,485.5 L968.3,487.5 L968.4,489.5 L968.4,491.5 L968.5,493.5 L968.5,495.6 L968.6,497.6 L968.6,499.6 L968.7,501.6 L968.7,503.6 L968.7,505.6 L968.8,507.6 L968.8,509.6 L968.8,511.6 L968.9,513.6 L968.9,515.6 L968.9,517.6 L968.9,519.6 L969.0,521.6 L969.0,523.6 L969.0,525.6 L969.0,527.6 L969.1,529.6 L969.1,531.6 L969.1,533.6 L969.1,535.6 L969.1,537.6 L969.2,539.6 L969.2,541.6 L969.2,543.6 L969.2,545.6 L969.2,547.6 L969.2,549.6 L969.2,551.6 L969.2,553.6 L969.3,555.6 L969.3,557.6 L969.3,559.6 L969.3,561.6 L969.3,563.6 L969.3,565.6 L969.3,567.6 L969.3,569.6 L969.3,571.6 L969.3,573.6 L969.3,575.6 L969.3,577.6 L969.3,579.6 L969.3,581.6 L969.3,583.6 L969.3,585.6 L969.3,587.6 L969.3,589.6 L969.3,591.6 L969.3,593.6 L969.3,595.6 L969.3,597.6 L969.3,599.6 L969.3,601.7 L969.3,603.7 L969.2,605.7 L969.2,607.7 L969.2,609.7 L969.2,611.7 L969.2,613.7 L969.2,615.7 L969.2,617.7 L969.2,619.7 L969.2,621.7 L969.1,623.7 L969.1,625.7 L969.1,627.7 L969.1,629.7 L969.1,631.7 L969.1,633.7 L969.0,635.7 L969.0,637.7 L969.0,639.7 L969.0,641.7 L969.0,643.7 L969.0,645.7 L968.9,647.7 L968.9,649.7 L968.9,651.7 L968.9,653.7 L968.9,655.7 L968.8,657.7 L968.8,659.7 L968.8,661.7 L968.8,663.7 L968.8,665.7 L968.7,667.7 L968.7,669.7 L968.7,671.7 L968.7,673.7 L968.6,675.7 L968.6,677.7 L968.6,679.7 L968.6,681.7 L968.5,683.7 L968.5,685.7 L968.5,687.7 L968.5,689.7 L968.4,691.7 L968.4,693.7 L968.4,695.7 L968.4,697.7 L968.3,699.7 L968.3,701.7 L968.3,703.7 L968.3,705.8 L968.2,707.8 L968.2,709.8 L968.2,711.8 L968.2,713.8 L968.1,715.8 L968.1,717.8 L968.1,719.8 L968.1,721.8 L968.0,723.8 L968.0,725.8 L968.0,727.8 L968.0,729.8 L967.9,731.8 L967.9,733.8 L967.9,735.8 L967.9,737.8 L967.8,739.8 L967.8,741.8 L967.8,743.8 L967.8,745.8 L967.7,747.8 L967.7,749.8 L967.7,751.8 L967.7,753.8 L967.6,755.8 L967.6,757.8 L967.6,759.8 L967.6,761.8 L967.5,763.8 L967.5,765.8 L967.5,767.8 L967.5,769.8 L967.4,771.8 L967.4,773.8 L967.4,775.8 L967.4,777.8 L967.3,779.8 L967.3,781.8 L967.3,783.8 L967.3,785.8 L967.2,787.8 L967.2,789.8 L967.2,791.8 L967.2,793.8 L967.2,795.8 L967.1,797.8 L967.1,799.8 L967.1,801.8 L967.1,803.8 L967.1,805.8 L967.1,807.8 L967.0,809.8 L967.0,811.8 L967.0,813.9 L967.0,815.9 L967.0,817.9 L967.0,819.9 L966.9,821.9 L966.9,823.9 L966.9,825.9 L966.9,827.9 L966.9,829.9 L966.9,831.9 L966.9,833.9 L966.8,835.9 L966.8,837.9 L966.8,839.9 L966.8,841.9 L966.8,843.9 L966.8,845.9 L966.8,847.9 L966.8,849.9 L966.8,851.9 L966.8,853.9 L966.8,855.9 L966.8,857.9 L966.7,859.9 L966.7,861.9 L966.7,863.9 L966.7,865.9 L966.7,867.9 L966.7,869.9 L966.7,871.9 L966.7,873.9 L966.7,875.9 L966.7,877.9 L966.7,879.9 L966.7,881.9 L966.8,883.9 L966.8,885.9 L966.8,887.9 L966.8,889.9 L966.8,891.9 L966.8,893.9 L966.8,895.9 L966.8,897.9 L966.8,899.9 L966.8,901.9 L966.8,903.9 L966.9,905.9 L966.9,907.9 L966.9,909.9 L966.9,911.9 L966.9,913.9 L966.9,916.0 L967.0,918.0 L967.0,920.0 L967.0,922.0 L967.0,924.0 L967.0,926.0 L967.1,928.0 L967.1,930.0 L967.1,932.0 L967.2,934.0 L967.2,936.0 L967.2,938.0 L967.2,940.0 L967.3,942.0 L967.3,944.0 L967.3,946.0 L967.4,948.0 L967.4,950.0 L967.5,952.0 L967.5,954.0 L967.5,956.0 L967.6,958.0 L967.6,960.0 L967.7,962.0 L967.7,964.0 L967.8,966.0 L967.8,968.0 L967.9,970.0 L967.9,971.9 L968.0,973.4 L968.0,975.0" stroke-width="4.8"/>
<path d="M968.8,144.0 L968.7,549.0" stroke-width="3.5"/>
<path d="M969.5,560.0 L969.6,562.3 L969.6,564.1 L969.7,566.0 L969.7,568.0 L969.8,570.0 L969.9,572.0 L969.9,574.0 L970.0,576.0 L970.0,578.0 L970.1,580.0 L970.1,582.0 L970.2,584.0 L970.2,586.0 L970.3,588.0 L970.3,590.0 L970.4,592.0 L970.4,594.0 L970.4,596.0 L970.5,598.0 L970.5,600.0 L970.6,602.0 L970.6,604.0 L970.6,606.0 L970.7,608.0 L970.7,610.0 L970.7,612.0 L970.8,614.1 L970.8,616.1 L970.8,618.1 L970.9,620.1 L970.9,622.1 L970.9,624.1 L970.9,626.1 L971.0,628.1 L971.0,630.1 L971.0,632.1 L971.1,634.1 L971.1,636.1 L971.1,638.1 L971.1,640.1 L971.2,642.1 L971.2,644.1 L971.2,646.1 L971.2,648.1 L971.3,650.1 L971.3,652.1 L971.3,654.1 L971.3,656.1 L971.4,658.1 L971.4,660.1 L971.4,662.1 L971.4,664.1 L971.5,666.1 L971.5,668.1 L971.5,670.1 L971.5,672.1 L971.6,674.1 L971.6,676.1 L971.6,678.1 L971.6,680.1 L971.7,682.1 L971.7,684.1 L971.7,686.1 L971.7,688.1 L971.8,690.1 L971.8,692.1 L971.8,694.1 L971.9,696.1 L971.9,698.1 L971.9,700.2 L972.0,702.2 L972.0,704.2 L972.0,706.2 L972.1,708.2 L972.1,710.2 L972.1,712.2 L972.2,714.2 L972.2,716.2 L972.2,718.2 L972.3,720.2 L972.3,722.2 L972.4,724.2 L972.4,726.2 L972.4,728.2 L972.5,730.2 L972.5,732.2 L972.6,734.2 L972.6,736.2 L972.7,738.2 L972.7,740.2 L972.8,742.2 L972.8,744.2 L972.9,746.2 L972.9,748.2 L973.0,750.2 L973.1,752.2 L973.1,754.2 L973.2,756.2 L973.2,758.2 L973.3,760.2 L973.4,762.2 L973.4,764.2 L973.5,766.2 L973.6,768.2 L973.7,770.2 L973.7,772.2 L973.8,774.2 L973.9,776.2 L974.0,778.2 L974.1,780.2 L974.1,782.2 L974.2,784.2 L974.3,786.2 L974.4,788.2 L974.5,790.2 L974.6,792.2 L974.7,794.2 L974.8,796.2 L974.9,798.2 L975.0,800.2 L975.1,802.2 L975.2,804.2 L975.3,806.2 L975.5,808.2 L975.6,810.2 L975.7,812.2 L975.8,814.2 L975.9,816.2 L976.1,818.2 L976.2,820.2 L976.3,822.2 L976.5,824.2 L976.6,826.2 L976.7,828.2 L976.9,830.2 L977.0,832.2 L977.2,834.2 L977.3,836.2 L977.5,838.2 L977.6,840.2 L977.8,842.2 L978.0,844.2 L978.1,846.2 L978.3,848.2 L978.5,850.2 L978.7,852.2 L978.8,854.2 L979.0,856.1 L979.2,858.1 L979.4,860.1 L979.6,862.1 L979.8,864.1 L980.0,866.1 L980.2,868.1 L980.4,870.1 L980.6,872.1 L980.8,874.1 L981.0,876.1 L981.3,878.1 L981.5,880.0 L981.7,882.0 L981.9,884.0 L982.2,886.0 L982.4,888.0 L982.7,890.0 L982.9,892.0 L983.1,894.0 L983.4,896.0 L983.7,897.9 L983.9,899.9 L984.2,901.9 L984.5,903.9 L984.7,905.9 L985.0,907.9 L985.3,909.8 L985.6,911.8 L985.9,913.8 L986.2,915.8 L986.5,917.8 L986.8,919.7 L987.1,921.7 L987.4,923.6 L987.7,925.0 L988.1,925.6 L988.6,924.9 L989.1,923.4 L989.7,921.6 L990.2,919.6 L990.7,917.7 L991.3,915.8 L991.8,913.8 L992.3,911.9 L992.8,910.0 L993.3,908.0 L993.9,906.1 L994.4,904.2 L994.9,902.2 L995.4,900.3 L995.9,898.4 L996.4,896.4 L996.9,894.5 L997.4,892.5 L997.9,890.6 L998.4,888.7 L998.9,886.7 L999.3,884.8 L999.8,882.8 L1000.3,880.9 L1000.8,878.9 L1001.3,877.0 L1001.7,875.0 L1002.2,873.1 L1002.7,871.2 L1003.2,869.2 L1003.6,867.3 L1004.1,865.3 L1004.5,863.4 L1005.0,861.4 L1005.5,859.5 L1005.9,857.5 L1006.4,855.6 L1006.8,853.6 L1007.3,851.7 L1007.7,849.7 L1008.1,847.8 L1008.6,845.8 L1009.0,843.8 L1009.5,841.9 L1009.9,839.9 L1010.3,838.0 L1010.8,836.0 L1011.2,834.1 L1011.6,832.1 L1012.0,830.2 L1012.5,828.2 L1012.9,826.2 L1013.3,824.3 L1013.7,822.3 L1014.1,820.4 L1014.5,818.4 L1015.0,816.4 L1015.4,814.5 L1015.8,812.5 L1016.2,810.6 L1016.6,808.6 L1017.0,806.6 L1017.4,804.7 L1017.8,802.7 L1018.2,800.8 L1018.6,798.8 L1019.0,796.8 L1019.4,794.9 L1019.8,792.9 L1020.2,790.9 L1020.5,789.0 L1020.9,787.0 L1021.3,785.0 L1021.7,783.1 L1022.1,781.1 L1022.5,779.1 L1022.8,777.2 L1023.2,775.2 L1023.6,773.2 L1024.0,771.3 L1024.3,769.3 L1024.7,767.3 L1025.1,765.4 L1025.5,763.4 L1025.8,761.4 L1026.2,759.5 L1026.6,757.5 L1026.9,755.5 L1027.3,753.6 L1027.7,751.6 L1028.0,749.6 L1028.4,747.7 L1028.7,745.7 L1029.1,743.7 L1029.5,741.8 L1029.8,739.8 L1030.2,737.8 L1030.5,735.8 L1030.9,733.9 L1031.2,731.9 L1031.6,729.9 L1031.9,728.0 L1032.3,726.0 L1032.6,724.0 L1033.0,722.0 L1033.3,720.1 L1033.7,718.1 L1034.0,716.1 L1034.4,714.1 L1034.7,712.2 L1035.1,710.2 L1035.4,708.2 L1035.7,706.3 L1036.1,704.3 L1036.4,702.3 L1036.8,700.3 L1037.1,698.4 L1037.5,696.4 L1037.8,694.4 L1038.1,692.4 L1038.5,690.5 L1038.8,688.5 L1039.1,686.5 L1039.5,684.5 L1039.8,682.6 L1040.1,680.6 L1040.5,678.6 L1040.8,676.6 L1041.1,674.7 L1041.5,672.7 L1041.8,670.7 L1042.1,668.8 L1042.5,666.8 L1042.8,664.8 L1043.1,662.8 L1043.5,660.9 L1043.8,658.9 L1044.1,656.9 L1044.5,654.9 L1044.8,652.9 L1045.1,651.0 L1045.4,649.0 L1045.8,647.0 L1046.1,645.0 L1046.4,643.1 L1046.8,641.1 L1047.1,639.1 L1047.4,637.1 L1047.7,635.2 L1048.1,633.2 L1048.4,631.2 L1048.7,629.2 L1049.1,627.3 L1049.4,625.3 L1049.7,623.3 L1050.0,621.3 L1050.4,619.4 L1050.7,617.4 L1051.0,615.4 L1051.4,613.4 L1051.7,611.5 L1052.0,609.5 L1052.3,607.5 L1052.7,605.5 L1053.0,603.6 L1053.3,601.6 L1053.7,599.6 L1054.0,597.6 L1054.3,595.7 L1054.7,593.7 L1055.0,591.7 L1055.3,589.7 L1055.7,587.8 L1056.0,585.8 L1056.3,583.8 L1056.7,581.8 L1057.0,579.9 L1057.3,577.9 L1057.7,575.9 L1058.0,573.9 L1058.3,572.0 L1058.7,570.0 L1059.0,568.0 L1059.3,566.1 L1059.7,564.1 L1060.0,562.1 L1060.4,560.1 L1060.7,558.2 L1061.0,556.2 L1061.4,554.2 L1061.7,552.2 L1062.1,550.3 L1062.4,548.3 L1062.8,546.3 L1063.1,544.3 L1063.5,542.4 L1063.8,540.4 L1064.1,538.4 L1064.5,536.5 L1064.8,534.5 L1065.2,532.5 L1065.6,530.5 L1065.9,528.6 L1066.3,526.6 L1066.6,524.6 L1067.0,522.7 L1067.3,520.7 L1067.7,518.7 L1068.0,516.8 L1068.4,514.8 L1068.8,512.8 L1069.1,510.8 L1069.5,508.9 L1069.9,506.9 L1070.2,504.9 L1070.6,503.0 L1071.0,501.0 L1071.3,499.0 L1071.7,497.1 L1072.1,495.1 L1072.5,493.1 L1072.8,491.2 L1073.2,489.2 L1073.6,487.2 L1074.0,485.3 L1074.4,483.3 L1074.8,481.3 L1075.2,479.4 L1075.5,477.4 L1075.9,475.4 L1076.3,473.5 L1076.7,471.5 L1077.1,469.6 L1077.6,467.6 L1078.0,465.6 L1078.4,463.7 L1078.8,461.7 L1079.2,459.8 L1079.6,457.8 L1080.0,455.8 L1080.5,453.9 L1080.9,451.9 L1081.3,450.0 L1081.8,448.0 L1082.2,446.1 L1082.6,444.1 L1083.1,442.2 L1083.5,440.2 L1084.0,438.3 L1084.4,436.3 L1084.9,434.4 L1085.3,432.4 L1085.8,430.5 L1086.3,428.5 L1086.7,426.6 L1087.2,424.6 L1087.7,422.7 L1088.2,420.7 L1088.7,418.8 L1089.2,416.9 L1089.7,414.9 L1090.2,413.0 L1090.7,411.0 L1091.2,409.1 L1091.7,407.2 L1092.2,405.2 L1092.7,403.3 L1093.2,401.4 L1093.8,399.4 L1094.3,397.5 L1094.9,395.6 L1095.4,393.6 L1095.9,391.7 L1096.5,389.8 L1097.1,387.9 L1097.6,385.9 L1098.2,384.0 L1098.8,382.1 L1099.3,380.2 L1099.9,378.3 L1100.5,376.4 L1101.1,374.5 L1101.7,372.6 L1102.4,370.7 L1103.0,368.8 L1103.6,366.9 L1104.3,365.0 L1105.0,363.1 L1105.6,361.2 L1106.3,359.3 L1107.0,357.4 L1107.7,355.6 L1108.5,353.7 L1109.2,351.8 L1110.0,350.0 L1110.7,348.1 L1111.5,346.3 L1112.3,344.4 L1113.1,342.6 L1113.9,340.8 L1114.8,339.0 L1115.7,337.2 L1116.5,335.4 L1117.4,333.6 L1118.3,331.8 L1119.3,330.0 L1120.2,328.3 L1121.2,326.6 L1122.2,325.1 L1123.3,324.3 L1124.5,324.5 L1125.7,325.6 L1126.8,327.1 L1127.5,328.9 L1128.0,330.8 L1128.3,332.7 L1128.5,334.7 L1128.7,336.7 L1128.8,338.7 L1129.0,340.7 L1129.1,342.7 L1129.1,344.7 L1129.2,346.7 L1129.2,348.7 L1129.3,350.7 L1129.3,352.7 L1129.3,354.7 L1129.3,356.7 L1129.3,358.7 L1129.3,360.7 L1129.3,362.7 L1129.3,364.7 L1129.3,366.7 L1129.3,368.7 L1129.3,370.7 L1129.3,372.7 L1129.3,374.7 L1129.3,376.7 L1129.3,378.7 L1129.3,380.7 L1129.4,382.7 L1129.5,384.7 L1129.6,386.7 L1129.7,388.7 L1129.9,390.7 L1130.1,392.7 L1130.3,394.7 L1130.5,396.7 L1130.7,398.7 L1130.9,400.7 L1131.1,402.7 L1131.3,404.7 L1131.5,406.7 L1131.7,408.7 L1131.8,410.7 L1132.0,412.7 L1132.1,414.7 L1132.1,416.7 L1132.2,418.7 L1132.3,420.7 L1132.4,422.7 L1132.5,424.7 L1132.5,426.7 L1132.6,428.7 L1132.7,430.7 L1132.7,432.7 L1132.8,434.7 L1132.9,436.7 L1132.9,438.7 L1133.0,440.7 L1133.0,442.7 L1133.1,444.7 L1133.1,446.7 L1133.2,448.7 L1133.2,450.7 L1133.2,452.7 L1133.3,454.7 L1133.3,456.7 L1133.3,458.7 L1133.3,460.7 L1133.3,462.7 L1133.3,464.7 L1133.3,466.7 L1133.3,468.7 L1133.3,470.7 L1133.4,472.7 L1133.4,474.7 L1133.4,476.7 L1133.4,478.7 L1133.4,480.7 L1133.4,482.7 L1133.4,484.7 L1133.4,486.7 L1133.4,488.7 L1133.4,490.7 L1133.4,492.7 L1133.4,494.7 L1133.4,496.7 L1133.5,498.7 L1133.5,500.8 L1133.5,502.8 L1133.5,504.8 L1133.5,506.8 L1133.5,508.8 L1133.5,510.8 L1133.5,512.8 L1133.5,514.8 L1133.5,516.8 L1133.5,518.8 L1133.5,520.8 L1133.5,522.8 L1133.5,524.8 L1133.5,526.8 L1133.5,528.8 L1133.5,530.8 L1133.6,532.8 L1133.6,534.8 L1133.6,536.8 L1133.6,538.8 L1133.6,540.8 L1133.6,542.8 L1133.6,544.8 L1133.6,546.8 L1133.6,548.8 L1133.6,550.8 L1133.6,552.8 L1133.6,554.8 L1133.6,556.8 L1133.6,558.8 L1133.6,560.8 L1133.6,562.8 L1133.6,564.8 L1133.6,566.8 L1133.6,568.8 L1133.6,570.8 L1133.6,572.8 L1133.6,574.8 L1133.7,576.8 L1133.7,578.8 L1133.7,580.9 L1133.7,582.9 L1133.7,584.9 L1133.7,586.9 L1133.7,588.9 L1133.7,590.9 L1133.7,592.9 L1133.7,594.9 L1133.7,596.9 L1133.7,598.9 L1133.7,600.9 L1133.7,602.9 L1133.7,604.9 L1133.7,606.9 L1133.7,608.9 L1133.7,610.9 L1133.7,612.9 L1133.7,614.9 L1133.7,616.9 L1133.7,618.9 L1133.7,620.9 L1133.7,622.9 L1133.7,624.9 L1133.7,626.9 L1133.7,628.9 L1133.7,630.9 L1133.7,632.9 L1133.7,634.9 L1133.7,636.9 L1133.7,638.9 L1133.7,640.9 L1133.7,642.9 L1133.7,644.9 L1133.7,646.9 L1133.7,648.9 L1133.7,650.9 L1133.7,652.9 L1133.7,654.9 L1133.7,656.9 L1133.7,658.9 L1133.7,661.0 L1133.7,663.0 L1133.7,665.0 L1133.7,667.0 L1133.7,669.0 L1133.7,671.0 L1133.7,673.0 L1133.7,675.0 L1133.7,677.0 L1133.7,679.0 L1133.7,681.0 L1133.7,683.0 L1133.7,685.0 L1133.7,687.0 L1133.7,689.0 L1133.7,691.0 L1133.7,693.0 L1133.7,695.0 L1133.7,696.9 L1133.7,698.4 L1133.8,700.0" stroke-width="4.8"/>
<path d="M1131.7,144.0 L1131.7,147.2 L1131.7,148.6 L1131.7,150.3 L1131.7,152.1 L1131.7,154.1 L1131.7,156.0 L1131.7,158.0 L1131.7,160.0 L1131.7,162.0 L1131.7,164.0 L1131.7,166.0 L1131.7,168.1 L1131.7,170.1 L1131.7,172.1 L1131.7,174.1 L1131.7,176.1 L1131.7,178.1 L1131.7,180.1 L1131.7,182.1 L1131.7,184.1 L1131.7,186.1 L1131.7,188.1 L1131.7,190.1 L1131.7,192.1 L1131.7,194.1 L1131.7,196.1 L1131.7,198.1 L1131.7,200.1 L1131.7,202.1 L1131.7,204.1 L1131.7,206.1 L1131.7,208.1 L1131.7,210.1 L1131.7,212.1 L1131.7,214.1 L1131.7,216.2 L1131.7,218.2 L1131.7,220.2 L1131.7,222.2 L1131.7,224.2 L1131.7,226.2 L1131.7,228.2 L1131.7,230.2 L1131.7,232.2 L1131.7,234.2 L1131.7,236.2 L1131.7,238.2 L1131.7,240.2 L1131.7,242.2 L1131.7,244.2 L1131.7,246.2 L1131.7,248.2 L1131.7,250.2 L1131.7,252.2 L1131.7,254.2 L1131.7,256.2 L1131.7,258.2 L1131.7,260.2 L1131.7,262.3 L1131.7,264.3 L1131.7,266.3 L1131.7,268.3 L1131.7,270.3 L1131.7,272.3 L1131.7,274.3 L1131.7,276.3 L1131.7,278.3 L1131.7,280.3 L1131.7,282.3 L1131.7,284.3 L1131.7,286.3 L1131.7,288.3 L1131.7,290.3 L1131.7,292.3 L1131.7,294.3 L1131.7,296.3 L1131.7,298.3 L1131.7,300.3 L1131.7,302.3 L1131.7,304.3 L1131.7,306.3 L1131.7,308.4 L1131.7,310.4 L1131.7,312.4 L1131.7,314.4 L1131.7,316.4 L1131.7,318.4 L1131.7,320.4 L1131.7,322.4 L1131.7,324.4 L1131.7,326.4 L1131.7,328.4 L1131.7,330.4 L1131.7,332.4 L1131.7,334.4 L1131.7,336.4 L1131.7,338.4 L1131.7,340.4 L1131.7,342.4 L1131.7,344.4 L1131.7,346.4 L1131.7,348.4 L1131.7,350.4 L1131.7,352.4 L1131.7,354.4 L1131.7,356.5 L1131.7,358.5 L1131.7,360.5 L1131.7,362.5 L1131.7,364.5 L1131.7,366.5 L1131.7,368.5 L1131.7,370.5 L1131.7,372.5 L1131.7,374.5 L1131.7,376.5 L1131.7,378.5 L1131.7,380.5 L1131.7,382.5 L1131.7,384.5 L1131.7,386.5 L1131.7,388.5 L1131.7,390.5 L1131.7,392.5 L1131.7,394.5 L1131.7,396.5 L1131.7,398.5 L1131.7,400.5 L1131.7,402.6 L1131.7,404.6 L1131.7,406.6 L1131.7,408.6 L1131.7,410.6 L1131.7,412.6 L1131.7,414.6 L1131.7,416.6 L1131.7,418.6 L1131.7,420.6 L1131.7,422.6 L1131.7,424.6 L1131.7,426.6 L1131.7,428.6 L1131.7,430.6 L1131.7,432.6 L1131.7,434.6 L1131.7,436.6 L1131.7,438.6 L1131.7,440.6 L1131.7,442.6 L1131.7,444.6 L1131.7,446.6 L1131.7,448.7 L1131.7,450.7 L1131.7,452.7 L1131.7,454.7 L1131.7,456.7 L1131.7,458.7 L1131.7,460.7 L1131.7,462.7 L1131.7,464.7 L1131.7,466.7 L1131.7,468.7 L1131.7,470.7 L1131.7,472.7 L1131.7,474.7 L1131.7,476.7 L1131.7,478.7 L1131.7,480.7 L1131.7,482.7 L1131.7,484.7 L1131.7,486.7 L1131.7,488.7 L1131.7,490.7 L1131.7,492.7 L1131.7,494.7 L1131.7,496.8 L1131.7,498.8 L1131.7,500.8 L1131.7,502.8 L1131.7,504.8 L1131.7,506.8 L1131.7,508.8 L1131.7,510.8 L1131.7,512.8 L1131.7,514.8 L1131.7,516.8 L1131.7,518.8 L1131.7,520.8 L1131.7,522.8 L1131.7,524.8 L1131.7,526.8 L1131.7,528.8 L1131.7,530.8 L1131.7,532.8 L1131.7,534.8 L1131.7,536.8 L1131.7,538.8 L1131.7,540.8 L1131.7,542.9 L1131.7,544.9 L1131.7,546.9 L1131.7,548.9 L1131.7,550.9 L1131.7,552.9 L1131.7,554.9 L1131.7,556.9 L1131.7,558.9 L1131.7,560.9 L1131.7,562.9 L1131.7,564.9 L1131.7,566.9 L1131.7,568.9 L1131.7,570.9 L1131.7,572.9 L1131.7,574.9 L1131.7,576.9 L1131.7,578.9 L1131.7,580.9 L1131.7,582.9 L1131.7,584.9 L1131.7,586.9 L1131.7,589.0 L1131.7,591.0 L1131.7,593.0 L1131.7,595.0 L1131.7,597.0 L1131.7,599.0 L1131.7,601.0 L1131.7,603.0 L1131.7,605.0 L1131.7,607.0 L1131.7,609.0 L1131.7,611.0 L1131.7,613.0 L1131.7,615.0 L1131.7,617.0 L1131.7,619.0 L1131.7,621.0 L1131.7,623.0 L1131.7,625.0 L1131.7,627.0 L1131.7,629.0 L1131.7,631.0 L1131.7,633.0 L1131.7,635.0 L1131.7,637.1 L1131.7,639.1 L1131.7,641.1 L1131.7,643.1 L1131.7,645.1 L1131.7,647.1 L1131.7,649.1 L1131.7,651.1 L1131.7,653.1 L1131.7,655.1 L1131.7,657.1 L1131.7,659.1 L1131.7,661.1 L1131.7,663.1 L1131.6,665.1 L1131.6,667.1 L1131.6,669.1 L1131.6,671.1 L1131.6,673.1 L1131.6,675.1 L1131.6,677.1 L1131.6,679.1 L1131.6,681.1 L1131.6,683.2 L1131.6,685.2 L1131.6,687.2 L1131.6,689.2 L1131.6,691.2 L1131.6,693.2 L1131.6,695.2 L1131.6,697.2 L1131.6,699.2 L1131.6,701.2 L1131.6,703.2 L1131.6,705.2 L1131.6,707.2 L1131.6,709.2 L1131.6,711.2 L1131.6,713.2 L1131.6,715.2 L1131.6,717.2 L1131.6,719.2 L1131.6,721.2 L1131.6,723.2 L1131.6,725.2 L1131.6,727.2 L1131.6,729.2 L1131.6,731.3 L1131.6,733.3 L1131.6,735.3 L1131.6,737.3 L1131.6,739.3 L1131.6,741.3 L1131.6,743.3 L1131.6,745.3 L1131.6,747.3 L1131.6,749.3 L1131.6,751.3 L1131.6,753.3 L1131.6,755.3 L1131.6,757.3 L1131.6,759.3 L1131.6,761.3 L1131.5,763.3 L1131.5,765.3 L1131.5,767.3 L1131.5,769.3 L1131.5,771.3 L1131.5,773.3 L1131.5,775.3 L1131.5,777.4 L1131.5,779.4 L1131.5,781.4 L1131.5,783.4 L1131.5,785.4 L1131.5,787.4 L1131.5,789.4 L1131.5,791.4 L1131.5,793.4 L1131.5,795.4 L1131.5,797.4 L1131.5,799.4 L1131.5,801.4 L1131.5,803.4 L1131.5,805.4 L1131.5,807.4 L1131.5,809.4 L1131.5,811.4 L1131.5,813.4 L1131.5,815.4 L1131.5,817.4 L1131.5,819.4 L1131.5,821.4 L1131.5,823.5 L1131.5,825.5 L1131.5,827.5 L1131.5,829.5 L1131.5,831.5 L1131.5,833.5 L1131.5,835.5 L1131.4,837.5 L1131.4,839.5 L1131.4,841.5 L1131.4,843.5 L1131.4,845.5 L1131.4,847.5 L1131.4,849.5 L1131.4,851.5 L1131.4,853.5 L1131.4,855.5 L1131.4,857.5 L1131.4,859.5 L1131.4,861.5 L1131.4,863.5 L1131.4,865.5 L1131.4,867.5 L1131.4,869.5 L1131.4,871.6 L1131.4,873.6 L1131.4,875.6 L1131.4,877.6 L1131.4,879.6 L1131.4,881.6 L1131.4,883.6 L1131.4,885.6 L1131.4,887.6 L1131.4,889.6 L1131.4,891.6 L1131.4,893.6 L1131.4,895.6 L1131.4,897.6 L1131.4,899.6 L1131.3,901.6 L1131.3,903.6 L1131.3,905.6 L1131.3,907.6 L1131.3,909.6 L1131.3,911.6 L1131.3,913.6 L1131.3,915.6 L1131.3,917.7 L1131.3,919.7 L1131.3,921.7 L1131.3,923.7 L1131.3,925.7 L1131.3,927.7 L1131.3,929.7 L1131.3,931.7 L1131.3,933.7 L1131.3,935.7 L1131.3,937.7 L1131.3,939.7 L1131.3,941.7 L1131.3,943.7 L1131.3,945.7 L1131.3,947.7 L1131.3,949.7 L1131.3,951.7 L1131.3,953.7 L1131.3,955.6 L1131.3,957.5 L1131.3,959.1 L1131.3,960.6 L1131.2,963.8 L1131.2,963.8" stroke-width="3.5"/>
<path d="M1133.8,700.0 L1133.9,702.3 L1133.9,704.1 L1134.0,706.0 L1134.1,708.0 L1134.2,710.0 L1134.3,712.0 L1134.4,714.0 L1134.5,716.0 L1134.6,718.0 L1134.7,720.0 L1134.8,722.0 L1134.9,724.0 L1135.0,726.0 L1135.1,728.0 L1135.2,730.0 L1135.3,732.0 L1135.4,734.0 L1135.5,736.0 L1135.6,738.0 L1135.7,740.0 L1135.8,742.0 L1135.9,744.0 L1136.0,746.0 L1136.1,748.0 L1136.3,750.0 L1136.4,752.0 L1136.5,754.0 L1136.6,756.0 L1136.7,758.0 L1136.8,760.0 L1136.9,762.0 L1137.0,764.0 L1137.2,766.0 L1137.3,768.0 L1137.4,770.0 L1137.5,772.0 L1137.6,774.0 L1137.8,776.0 L1137.9,778.0 L1138.0,780.0 L1138.1,782.0 L1138.3,784.0 L1138.4,786.0 L1138.5,788.0 L1138.6,790.0 L1138.7,792.0 L1138.9,794.0 L1139.0,796.0 L1139.1,798.0 L1139.2,800.0 L1139.4,802.0 L1139.5,804.0 L1139.6,806.0 L1139.7,808.0 L1139.9,810.0 L1140.0,812.0 L1140.1,814.0 L1140.2,816.0 L1140.3,818.0 L1140.4,820.0 L1140.5,822.0 L1140.6,824.0 L1140.7,826.0 L1140.8,828.0 L1140.9,830.0 L1141.0,832.0 L1141.1,834.0 L1141.2,836.0 L1141.3,838.0 L1141.4,840.0 L1141.5,842.0 L1141.6,844.0 L1141.7,846.0 L1141.8,848.0 L1141.9,850.0 L1142.0,852.0 L1142.2,854.0 L1142.3,856.0 L1142.4,858.0 L1142.5,860.0 L1142.7,862.0 L1142.8,864.0 L1143.0,866.0 L1143.1,868.0 L1143.3,870.0 L1143.5,872.0 L1143.7,874.0 L1143.9,876.0 L1144.1,878.0 L1144.4,880.0 L1144.7,882.0 L1145.0,884.0 L1145.3,885.9 L1145.7,887.9 L1146.1,889.9 L1146.5,891.8 L1146.9,893.8 L1147.3,895.7 L1147.7,897.7 L1148.1,899.4 L1148.5,900.4 L1148.9,900.4 L1149.3,899.2 L1149.7,897.4 L1150.1,895.5 L1150.4,893.5 L1150.8,891.6 L1151.2,889.6 L1151.5,887.6 L1151.9,885.7 L1152.2,883.7 L1152.6,881.7 L1153.0,879.7 L1153.3,877.8 L1153.7,875.8 L1154.0,873.8 L1154.4,871.8 L1154.7,869.9 L1155.0,867.9 L1155.4,865.9 L1155.7,864.0 L1156.1,862.0 L1156.4,860.0 L1156.8,858.0 L1157.1,856.1 L1157.4,854.1 L1157.8,852.1 L1158.1,850.1 L1158.4,848.1 L1158.7,846.2 L1159.1,844.2 L1159.4,842.2 L1159.7,840.2 L1160.0,838.3 L1160.4,836.3 L1160.7,834.3 L1161.0,832.3 L1161.3,830.4 L1161.6,828.4 L1162.0,826.4 L1162.3,824.4 L1162.6,822.4 L1162.9,820.5 L1163.2,818.5 L1163.5,816.5 L1163.8,814.5 L1164.1,812.5 L1164.4,810.6 L1164.7,808.6 L1165.0,806.6 L1165.3,804.6 L1165.6,802.6 L1165.9,800.7 L1166.2,798.7 L1166.5,796.7 L1166.8,794.7 L1167.1,792.7 L1167.4,790.7 L1167.7,788.8 L1168.0,786.8 L1168.3,784.8 L1168.5,782.8 L1168.8,780.8 L1169.1,778.8 L1169.4,776.9 L1169.7,774.9 L1170.0,772.9 L1170.2,770.9 L1170.5,768.9 L1170.8,766.9 L1171.1,765.0 L1171.4,763.0 L1171.6,761.0 L1171.9,759.0 L1172.2,757.0 L1172.5,755.0 L1172.7,753.0 L1173.0,751.1 L1173.3,749.1 L1173.5,747.1 L1173.8,745.1 L1174.1,743.1 L1174.3,741.1 L1174.6,739.1 L1174.9,737.2 L1175.1,735.2 L1175.4,733.2 L1175.6,731.2 L1175.9,729.2 L1176.2,727.2 L1176.4,725.2 L1176.7,723.3 L1176.9,721.3 L1177.2,719.3 L1177.4,717.3 L1177.7,715.3 L1178.0,713.3 L1178.2,711.3 L1178.5,709.3 L1178.7,707.4 L1179.0,705.4 L1179.2,703.4 L1179.5,701.4 L1179.7,699.4 L1180.0,697.4 L1180.2,695.4 L1180.4,693.4 L1180.7,691.4 L1180.9,689.5 L1181.2,687.5 L1181.4,685.5 L1181.7,683.5 L1181.9,681.5 L1182.1,679.5 L1182.4,677.5 L1182.6,675.5 L1182.9,673.5 L1183.1,671.6 L1183.3,669.6 L1183.6,667.6 L1183.8,665.6 L1184.1,663.6 L1184.3,661.6 L1184.5,659.6 L1184.8,657.6 L1185.0,655.6 L1185.2,653.7 L1185.5,651.7 L1185.7,649.7 L1185.9,647.7 L1186.2,645.7 L1186.4,643.7 L1186.6,641.7 L1186.9,639.7 L1187.1,637.7 L1187.3,635.7 L1187.6,633.7 L1187.8,631.8 L1188.0,629.8 L1188.2,627.8 L1188.5,625.8 L1188.7,623.8 L1188.9,621.8 L1189.1,619.8 L1189.4,617.8 L1189.6,615.8 L1189.8,613.8 L1190.1,611.9 L1190.3,609.9 L1190.5,607.9 L1190.7,605.9 L1191.0,603.9 L1191.2,601.9 L1191.4,599.9 L1191.6,597.9 L1191.9,595.9 L1192.1,593.9 L1192.3,591.9 L1192.5,590.0 L1192.7,588.0 L1193.0,586.0 L1193.2,584.0 L1193.4,582.0 L1193.6,580.0 L1193.9,578.0 L1194.1,576.0 L1194.3,574.0 L1194.5,572.0 L1194.7,570.0 L1195.0,568.0 L1195.2,566.1 L1195.4,564.1 L1195.6,562.1 L1195.9,560.1 L1196.1,558.1 L1196.3,556.1 L1196.5,554.1 L1196.7,552.1 L1197.0,550.1 L1197.2,548.1 L1197.4,546.1 L1197.6,544.2 L1197.9,542.2 L1198.1,540.2 L1198.3,538.2 L1198.5,536.2 L1198.7,534.2 L1199.0,532.2 L1199.2,530.2 L1199.4,528.2 L1199.6,526.2 L1199.9,524.2 L1200.1,522.2 L1200.3,520.3 L1200.5,518.3 L1200.7,516.3 L1201.0,514.3 L1201.2,512.3 L1201.4,510.3 L1201.6,508.3 L1201.9,506.3 L1202.1,504.3 L1202.3,502.3 L1202.5,500.3 L1202.8,498.4 L1203.0,496.4 L1203.2,494.4 L1203.4,492.4 L1203.7,490.4 L1203.9,488.4 L1204.1,486.4 L1204.4,484.4 L1204.6,482.4 L1204.8,480.4 L1205.0,478.4 L1205.3,476.5 L1205.5,474.5 L1205.7,472.5 L1206.0,470.5 L1206.2,468.5 L1206.4,466.5 L1206.7,464.5 L1206.9,462.5 L1207.1,460.5 L1207.4,458.5 L1207.6,456.6 L1207.8,454.6 L1208.1,452.6 L1208.3,450.6 L1208.5,448.6 L1208.8,446.6 L1209.0,444.6 L1209.2,442.6 L1209.5,440.6 L1209.7,438.6 L1210.0,436.7 L1210.2,434.7 L1210.4,432.7 L1210.7,430.7 L1210.9,428.7 L1211.2,426.7 L1211.4,424.7 L1211.6,422.7 L1211.9,420.7 L1212.1,418.8 L1212.4,416.8 L1212.6,414.8 L1212.9,412.8 L1213.1,410.8 L1213.4,408.8 L1213.6,406.8 L1213.9,404.8 L1214.1,402.9 L1214.4,400.9 L1214.6,398.9 L1214.9,396.9 L1215.1,394.9 L1215.4,392.9 L1215.6,390.9 L1215.9,388.9 L1216.1,387.0 L1216.4,385.0 L1216.7,383.0 L1216.9,381.0 L1217.2,379.0 L1217.4,377.0 L1217.7,375.0 L1218.0,373.0 L1218.2,371.1 L1218.5,369.1 L1218.7,367.1 L1219.0,365.1 L1219.3,363.1 L1219.6,361.1 L1219.8,359.1 L1220.1,357.2 L1220.4,355.2 L1220.6,353.2 L1220.9,351.2 L1221.2,349.2 L1221.5,347.2 L1221.7,345.2 L1222.0,343.3 L1222.3,341.3 L1222.6,339.3 L1222.8,337.3 L1223.1,335.3 L1223.4,333.3 L1223.7,331.4 L1224.0,329.4 L1224.3,327.4 L1224.5,325.4 L1224.8,323.4 L1225.1,321.4 L1225.4,319.5 L1225.7,317.5 L1226.0,315.5 L1226.3,313.5 L1226.6,311.5 L1226.9,309.6 L1227.2,307.6 L1227.5,305.6 L1227.8,303.6 L1228.1,301.6 L1228.4,299.6 L1228.7,297.7 L1229.0,295.7 L1229.3,293.7 L1229.6,291.7 L1229.9,289.7 L1230.2,287.8 L1230.5,285.8 L1230.8,283.8 L1231.2,281.8 L1231.5,279.9 L1231.8,277.9 L1232.1,275.9 L1232.4,273.9 L1232.7,271.9 L1233.1,270.0 L1233.4,268.0 L1233.7,266.0 L1234.0,264.0 L1234.4,262.1 L1234.7,260.1 L1235.0,258.1 L1235.4,256.1 L1235.7,254.2 L1236.0,252.2 L1236.4,250.2 L1236.7,248.2 L1237.0,246.2 L1237.4,244.3 L1237.7,242.3 L1238.1,240.3 L1238.4,238.4 L1238.8,236.4 L1239.1,234.4 L1239.5,232.4 L1239.8,230.5 L1240.2,228.5 L1240.5,226.5 L1240.9,224.5 L1241.2,222.6 L1241.6,220.6 L1242.0,218.6 L1242.3,216.7 L1242.7,214.7 L1243.1,212.7 L1243.4,210.8 L1243.8,208.8 L1244.2,206.8 L1244.5,204.8 L1244.9,202.9 L1245.3,200.9 L1245.7,198.9 L1246.0,197.0 L1246.4,195.0 L1246.8,193.0 L1247.2,191.1 L1247.6,189.1 L1248.0,187.1 L1248.4,185.2 L1248.8,183.2 L1249.2,181.3 L1249.5,179.3 L1249.9,177.3 L1250.3,175.4 L1250.7,173.4 L1251.2,171.4 L1251.6,169.5 L1252.0,167.5 L1252.4,165.5 L1252.8,163.6 L1253.2,161.6 L1253.6,159.7 L1254.0,157.7 L1254.4,155.7 L1254.9,153.8 L1255.3,151.8 L1255.7,149.9 L1256.1,148.0 L1256.5,146.2 L1257.0,144.0 L1257.0,144.0" stroke-width="3.8"/>
<path d="M1290.0,144.0 L1290.0,947.5" stroke-width="3.5"/>
<path d="M1292.5,144.0 L1292.6,146.3 L1292.6,148.1 L1292.7,150.0 L1292.8,152.0 L1292.8,154.0 L1292.9,156.0 L1292.9,158.0 L1293.0,160.0 L1293.1,162.0 L1293.1,164.0 L1293.2,166.0 L1293.2,168.0 L1293.3,170.0 L1293.3,172.0 L1293.4,174.0 L1293.4,176.0 L1293.5,178.0 L1293.5,180.0 L1293.6,182.0 L1293.6,184.0 L1293.6,186.0 L1293.7,188.0 L1293.7,190.0 L1293.8,192.0 L1293.8,194.0 L1293.8,196.1 L1293.9,198.1 L1293.9,200.1 L1294.0,202.1 L1294.0,204.1 L1294.0,206.1 L1294.0,208.1 L1294.1,210.1 L1294.1,212.1 L1294.1,214.1 L1294.2,216.1 L1294.2,218.1 L1294.2,220.1 L1294.2,222.1 L1294.3,224.1 L1294.3,226.1 L1294.3,228.1 L1294.3,230.1 L1294.4,232.1 L1294.4,234.1 L1294.4,236.1 L1294.4,238.1 L1294.4,240.1 L1294.4,242.1 L1294.5,244.1 L1294.5,246.1 L1294.5,248.1 L1294.5,250.1 L1294.5,252.1 L1294.5,254.1 L1294.5,256.1 L1294.5,258.1 L1294.6,260.1 L1294.6,262.1 L1294.6,264.1 L1294.6,266.1 L1294.6,268.1 L1294.6,270.1 L1294.6,272.1 L1294.6,274.1 L1294.6,276.2 L1294.6,278.2 L1294.6,280.2 L1294.6,282.2 L1294.6,284.2 L1294.6,286.2 L1294.6,288.2 L1294.6,290.2 L1294.6,292.2 L1294.6,294.2 L1294.6,296.2 L1294.6,298.2 L1294.6,300.2 L1294.6,302.2 L1294.6,304.2 L1294.6,306.2 L1294.6,308.2 L1294.6,310.2 L1294.6,312.2 L1294.6,314.2 L1294.6,316.2 L1294.5,318.2 L1294.5,320.2 L1294.5,322.2 L1294.5,324.2 L1294.5,326.2 L1294.5,328.2 L1294.5,330.2 L1294.5,332.2 L1294.5,334.2 L1294.5,336.2 L1294.4,338.2 L1294.4,340.2 L1294.4,342.2 L1294.4,344.2 L1294.4,346.2 L1294.4,348.2 L1294.4,350.2 L1294.4,352.3 L1294.3,354.3 L1294.3,356.3 L1294.3,358.3 L1294.3,360.3 L1294.3,362.3 L1294.3,364.3 L1294.2,366.3 L1294.2,368.3 L1294.2,370.3 L1294.2,372.3 L1294.2,374.3 L1294.2,376.3 L1294.1,378.3 L1294.1,380.3 L1294.1,382.3 L1294.1,384.3 L1294.1,386.3 L1294.1,388.3 L1294.0,390.3 L1294.0,392.3 L1294.0,394.3 L1294.0,396.3 L1294.0,398.3 L1294.0,400.3 L1293.9,402.3 L1293.9,404.3 L1293.9,406.3 L1293.9,408.3 L1293.9,410.3 L1293.8,412.3 L1293.8,414.3 L1293.8,416.3 L1293.8,418.3 L1293.8,420.3 L1293.7,422.3 L1293.7,424.3 L1293.7,426.3 L1293.7,428.3 L1293.7,430.4 L1293.7,432.4 L1293.6,434.4 L1293.6,436.4 L1293.6,438.4 L1293.6,440.4 L1293.6,442.4 L1293.6,444.4 L1293.5,446.4 L1293.5,448.4 L1293.5,450.4 L1293.5,452.4 L1293.5,454.4 L1293.5,456.4 L1293.4,458.4 L1293.4,460.4 L1293.4,462.4 L1293.4,464.4 L1293.4,466.4 L1293.4,468.4 L1293.3,470.4 L1293.3,472.4 L1293.3,474.4 L1293.3,476.4 L1293.3,478.4 L1293.3,480.4 L1293.3,482.4 L1293.3,484.4 L1293.2,486.4 L1293.2,488.4 L1293.2,490.4 L1293.2,492.4 L1293.2,494.4 L1293.2,496.4 L1293.2,498.4 L1293.2,500.4 L1293.2,502.4 L1293.1,504.4 L1293.1,506.4 L1293.1,508.5 L1293.1,510.5 L1293.1,512.5 L1293.1,514.5 L1293.1,516.5 L1293.1,518.5 L1293.1,520.5 L1293.1,522.5 L1293.1,524.5 L1293.1,526.5 L1293.1,528.5 L1293.1,530.5 L1293.1,532.5 L1293.1,534.5 L1293.1,536.5 L1293.1,538.5 L1293.1,540.5 L1293.1,542.5 L1293.1,544.5 L1293.1,546.5 L1293.1,548.5 L1293.1,550.5 L1293.1,552.5 L1293.1,554.5 L1293.1,556.5 L1293.1,558.5 L1293.1,560.5 L1293.1,562.5 L1293.1,564.5 L1293.2,566.5 L1293.2,568.5 L1293.2,570.5 L1293.2,572.5 L1293.2,574.5 L1293.2,576.5 L1293.2,578.5 L1293.2,580.5 L1293.3,582.5 L1293.3,584.6 L1293.3,586.6 L1293.3,588.6 L1293.3,590.6 L1293.4,592.6 L1293.4,594.6 L1293.4,596.6 L1293.4,598.6 L1293.4,600.6 L1293.5,602.6 L1293.5,604.6 L1293.5,606.6 L1293.6,608.6 L1293.6,610.6 L1293.6,612.6 L1293.6,614.6 L1293.7,616.6 L1293.7,618.6 L1293.7,620.6 L1293.8,622.6 L1293.8,624.6 L1293.8,626.6 L1293.9,628.6 L1293.9,630.6 L1294.0,632.6 L1294.0,634.6 L1294.0,636.6 L1294.1,638.6 L1294.1,640.6 L1294.2,642.6 L1294.2,644.6 L1294.3,646.6 L1294.3,648.6 L1294.4,650.6 L1294.4,652.6 L1294.5,654.6 L1294.5,656.6 L1294.6,658.6 L1294.6,660.6 L1294.7,662.6 L1294.7,664.6 L1294.8,666.6 L1294.9,668.6 L1294.9,670.6 L1295.0,672.6 L1295.0,674.7 L1295.1,676.7 L1295.2,678.7 L1295.2,680.7 L1295.3,682.7 L1295.4,684.7 L1295.5,686.7 L1295.5,688.7 L1295.6,690.7 L1295.7,692.7 L1295.8,694.7 L1295.8,696.7 L1295.9,698.7 L1296.0,700.7 L1296.1,702.7 L1296.2,704.7 L1296.2,706.7 L1296.3,708.7 L1296.4,710.7 L1296.5,712.7 L1296.6,714.7 L1296.7,716.7 L1296.8,718.7 L1296.9,720.7 L1297.0,722.7 L1297.1,724.7 L1297.2,726.7 L1297.3,728.7 L1297.4,730.7 L1297.5,732.7 L1297.6,734.7 L1297.7,736.7 L1297.8,738.7 L1297.9,740.7 L1298.0,742.7 L1298.1,744.7 L1298.3,746.7 L1298.4,748.7 L1298.5,750.7 L1298.6,752.7 L1298.7,754.7 L1298.9,756.7 L1299.0,758.7 L1299.1,760.7 L1299.2,762.7 L1299.4,764.7 L1299.5,766.7 L1299.6,768.7 L1299.8,770.7 L1299.9,772.7 L1300.1,774.7 L1300.2,776.6 L1300.3,778.6 L1300.5,780.6 L1300.6,782.6 L1300.8,784.6 L1300.9,786.6 L1301.1,788.6 L1301.2,790.6 L1301.4,792.6 L1301.5,794.6 L1301.7,796.6 L1301.9,798.6 L1302.0,800.6 L1302.2,802.6 L1302.4,804.6 L1302.5,806.6 L1302.7,808.6 L1302.9,810.6 L1303.0,812.6 L1303.2,814.6 L1303.4,816.6 L1303.6,818.6 L1303.7,820.6 L1303.9,822.6 L1304.1,824.6 L1304.3,826.5 L1304.5,828.5 L1304.7,830.5 L1304.9,832.5 L1305.1,834.5 L1305.3,836.5 L1305.5,838.5 L1305.7,840.5 L1305.9,842.5 L1306.1,844.5 L1306.3,846.5 L1306.5,848.5 L1306.7,850.5 L1306.9,852.4 L1307.1,854.4 L1307.4,856.4 L1307.6,858.4 L1307.8,860.4 L1308.0,862.4 L1308.3,864.3 L1308.5,865.9 L1308.9,866.8 L1309.4,866.5 L1310.1,865.2 L1310.8,863.5 L1311.5,861.6 L1312.2,859.8 L1312.9,857.9 L1313.5,856.0 L1314.0,854.0 L1314.5,852.1 L1314.9,850.1 L1315.3,848.2 L1315.6,846.2 L1315.9,844.2 L1316.2,842.2 L1316.5,840.3 L1316.7,838.3 L1317.0,836.3 L1317.2,834.3 L1317.4,832.3 L1317.6,830.3 L1317.8,828.3 L1318.0,826.3 L1318.2,824.3 L1318.4,822.3 L1318.5,820.3 L1318.7,818.3 L1318.9,816.3 L1319.0,814.4 L1319.2,812.4 L1319.3,810.4 L1319.5,808.4 L1319.6,806.4 L1319.8,804.4 L1320.0,802.4 L1320.1,800.4 L1320.3,798.4 L1320.4,796.4 L1320.6,794.4 L1320.8,792.4 L1321.0,790.4 L1321.2,788.4 L1321.4,786.4 L1321.6,784.4 L1321.8,782.4 L1322.0,780.4 L1322.2,778.4 L1322.4,776.4 L1322.6,774.5 L1322.8,772.5 L1323.0,770.5 L1323.2,768.5 L1323.4,766.5 L1323.6,764.5 L1323.8,762.5 L1324.0,760.5 L1324.2,758.5 L1324.4,756.5 L1324.6,754.5 L1324.8,752.5 L1325.0,750.5 L1325.2,748.6 L1325.4,746.6 L1325.6,744.6 L1325.8,742.6 L1326.0,740.6 L1326.2,738.6 L1326.4,736.6 L1326.6,734.6 L1326.8,732.6 L1327.0,730.6 L1327.2,728.6 L1327.4,726.6 L1327.6,724.6 L1327.8,722.6 L1328.0,720.7 L1328.2,718.7 L1328.4,716.7 L1328.6,714.7 L1328.8,712.7 L1329.0,710.7 L1329.2,708.7 L1329.3,706.7 L1329.5,704.7 L1329.7,702.7 L1329.9,700.7 L1330.1,698.7 L1330.3,696.7 L1330.5,694.7 L1330.7,692.8 L1330.9,690.8 L1331.1,688.8 L1331.3,686.8 L1331.5,684.8 L1331.7,682.8 L1331.8,680.8 L1332.0,678.8 L1332.2,676.8 L1332.4,674.8 L1332.6,672.8 L1332.8,670.8 L1333.0,668.8 L1333.1,666.8 L1333.3,664.8 L1333.5,662.8 L1333.7,660.8 L1333.8,658.9 L1334.0,656.9 L1334.2,654.9 L1334.4,652.9 L1334.5,650.9 L1334.7,648.9 L1334.9,646.9 L1335.0,644.9 L1335.2,642.9 L1335.4,640.9 L1335.5,638.9 L1335.7,636.9 L1335.9,634.9 L1336.0,632.9 L1336.2,630.9 L1336.3,628.9 L1336.5,626.9 L1336.7,624.9 L1336.8,622.9 L1337.0,620.9 L1337.1,618.9 L1337.3,616.9 L1337.5,614.9 L1337.6,612.9 L1337.8,611.0 L1337.9,609.0 L1338.1,607.0 L1338.2,605.0 L1338.4,603.0 L1338.5,601.0 L1338.7,599.0 L1338.9,597.0 L1339.0,595.0 L1339.2,593.0 L1339.3,591.0 L1339.5,589.0 L1339.6,587.0 L1339.8,585.0 L1339.9,583.0 L1340.1,581.0 L1340.2,579.0 L1340.4,577.0 L1340.5,575.0 L1340.7,573.0 L1340.9,571.0 L1341.0,569.0 L1341.2,567.0 L1341.3,565.0 L1341.5,563.0 L1341.6,561.0 L1341.8,559.0 L1341.9,557.0 L1342.1,555.0 L1342.3,553.0 L1342.4,551.1 L1342.6,549.1 L1342.7,547.1 L1342.9,545.1 L1343.1,543.1 L1343.2,541.1 L1343.4,539.1 L1343.5,537.1 L1343.7,535.1 L1343.8,533.1 L1344.0,531.1 L1344.2,529.1 L1344.3,527.1 L1344.5,525.1 L1344.6,523.1 L1344.8,521.1 L1344.9,519.1 L1345.1,517.1 L1345.3,515.1 L1345.4,513.1 L1345.6,511.1 L1345.7,509.1 L1345.9,507.1 L1346.0,505.1 L1346.2,503.1 L1346.4,501.1 L1346.5,499.1 L1346.7,497.1 L1346.8,495.2 L1347.0,493.2 L1347.2,491.2 L1347.3,489.2 L1347.5,487.2 L1347.6,485.2 L1347.8,483.2 L1347.9,481.2 L1348.1,479.2 L1348.3,477.2 L1348.4,475.2 L1348.6,473.2 L1348.7,471.2 L1348.9,469.2 L1349.1,467.2 L1349.2,465.2 L1349.4,463.2 L1349.5,461.2 L1349.7,459.2 L1349.9,457.2 L1350.0,455.2 L1350.2,453.2 L1350.3,451.2 L1350.5,449.2 L1350.7,447.2 L1350.8,445.2 L1351.0,443.2 L1351.1,441.3 L1351.3,439.3 L1351.5,437.3 L1351.6,435.3 L1351.8,433.3 L1352.0,431.3 L1352.1,429.3 L1352.3,427.3 L1352.5,425.3 L1352.6,423.3 L1352.8,421.3 L1353.0,419.3 L1353.1,417.3 L1353.3,415.3 L1353.5,413.3 L1353.6,411.3 L1353.8,409.3 L1354.0,407.3 L1354.2,405.3 L1354.3,403.3 L1354.5,401.3 L1354.7,399.3 L1354.8,397.3 L1355.0,395.4 L1355.2,393.4 L1355.3,391.4 L1355.5,389.4 L1355.7,387.4 L1355.8,385.4 L1356.0,383.4 L1356.2,381.4 L1356.3,379.4 L1356.5,377.4 L1356.7,375.4 L1356.8,373.4 L1357.0,371.4 L1357.1,369.4 L1357.3,367.4 L1357.5,365.4 L1357.6,363.4 L1357.8,361.4 L1357.9,359.4 L1358.1,357.4 L1358.2,355.4 L1358.4,353.4 L1358.5,351.4 L1358.7,349.4 L1358.8,347.4 L1359.0,345.4 L1359.1,343.4 L1359.3,341.5 L1359.4,339.5 L1359.6,337.5 L1359.7,335.5 L1359.8,333.5 L1360.0,331.5 L1360.1,329.5 L1360.3,327.5 L1360.4,325.5 L1360.6,323.5 L1360.7,321.5 L1360.8,319.5 L1361.0,317.5 L1361.1,315.5 L1361.3,313.5 L1361.4,311.5 L1361.6,309.5 L1361.7,307.5 L1361.8,305.5 L1362.0,303.5 L1362.1,301.5 L1362.3,299.5 L1362.4,297.5 L1362.6,295.5 L1362.7,293.5 L1362.9,291.5 L1363.0,289.5 L1363.2,287.5 L1363.3,285.5 L1363.5,283.5 L1363.6,281.5 L1363.8,279.5 L1364.0,277.5 L1364.1,275.5 L1364.3,273.5 L1364.4,271.6 L1364.6,269.6 L1364.8,267.6 L1365.0,265.6 L1365.1,263.6 L1365.3,261.6 L1365.5,259.6 L1365.7,257.6 L1365.8,255.6 L1366.0,253.6 L1366.2,251.6 L1366.4,249.6 L1366.6,247.6 L1366.8,245.6 L1367.0,243.6 L1367.2,241.6 L1367.4,239.6 L1367.6,237.7 L1367.8,235.7 L1368.0,233.7 L1368.2,231.7 L1368.4,229.7 L1368.6,227.7 L1368.8,225.7 L1369.0,223.7 L1369.2,221.7 L1369.4,219.7 L1369.7,217.7 L1369.9,215.7 L1370.1,213.7 L1370.3,211.8 L1370.5,209.8 L1370.7,207.8 L1370.9,205.8 L1371.1,203.8 L1371.3,201.8 L1371.5,199.8 L1371.7,197.8 L1371.9,195.8 L1372.1,193.8 L1372.3,191.8 L1372.5,189.8 L1372.7,187.8 L1372.9,185.9 L1373.1,183.9 L1373.3,181.9 L1373.5,179.9 L1373.7,177.9 L1373.9,175.9 L1374.1,173.9 L1374.3,171.9 L1374.5,169.9 L1374.7,167.9 L1374.9,165.9 L1375.1,163.9 L1375.3,161.9 L1375.4,159.9 L1375.6,158.0 L1375.8,156.0 L1376.0,154.0 L1376.2,152.0 L1376.4,150.0 L1376.6,148.0 L1376.8,146.3 L1377.0,144.0 L1377.0,144.0" stroke-width="3.8"/>
<path d="M1447.0,144.0 L1447.4,936.0" stroke-width="3.5"/>
<path d="M1449.5,144.0 L1449.6,146.3 L1449.6,148.1 L1449.7,150.0 L1449.7,152.0 L1449.8,154.0 L1449.9,156.0 L1449.9,158.0 L1450.0,160.0 L1450.0,162.0 L1450.1,164.0 L1450.1,166.0 L1450.2,168.0 L1450.2,170.0 L1450.3,172.0 L1450.3,174.0 L1450.4,176.0 L1450.4,178.0 L1450.5,180.0 L1450.5,182.0 L1450.6,184.0 L1450.6,186.0 L1450.7,188.0 L1450.7,190.0 L1450.7,192.0 L1450.8,194.0 L1450.8,196.0 L1450.9,198.0 L1450.9,200.0 L1450.9,202.0 L1451.0,204.0 L1451.0,206.0 L1451.0,208.0 L1451.1,210.0 L1451.1,212.0 L1451.1,214.0 L1451.2,216.0 L1451.2,218.0 L1451.2,220.0 L1451.3,222.0 L1451.3,224.0 L1451.3,226.0 L1451.3,228.0 L1451.4,230.0 L1451.4,232.0 L1451.4,234.0 L1451.4,236.0 L1451.5,238.0 L1451.5,240.1 L1451.5,242.1 L1451.5,244.1 L1451.6,246.1 L1451.6,248.1 L1451.6,250.1 L1451.6,252.1 L1451.6,254.1 L1451.7,256.1 L1451.7,258.1 L1451.7,260.1 L1451.7,262.1 L1451.7,264.1 L1451.7,266.1 L1451.8,268.1 L1451.8,270.1 L1451.8,272.1 L1451.8,274.1 L1451.8,276.1 L1451.8,278.1 L1451.8,280.1 L1451.8,282.1 L1451.9,284.1 L1451.9,286.1 L1451.9,288.1 L1451.9,290.1 L1451.9,292.1 L1451.9,294.1 L1451.9,296.1 L1451.9,298.1 L1451.9,300.1 L1451.9,302.1 L1451.9,304.1 L1451.9,306.1 L1452.0,308.1 L1452.0,310.1 L1452.0,312.1 L1452.0,314.1 L1452.0,316.1 L1452.0,318.1 L1452.0,320.1 L1452.0,322.1 L1452.0,324.1 L1452.0,326.1 L1452.0,328.1 L1452.0,330.1 L1452.0,332.1 L1452.0,334.1 L1452.0,336.1 L1452.0,338.1 L1452.0,340.1 L1452.0,342.1 L1452.0,344.1 L1452.0,346.1 L1452.0,348.1 L1452.0,350.1 L1452.0,352.1 L1452.0,354.1 L1452.0,356.1 L1452.0,358.1 L1452.0,360.1 L1452.0,362.1 L1452.0,364.1 L1452.0,366.1 L1452.0,368.1 L1452.0,370.1 L1452.0,372.1 L1452.0,374.2 L1452.0,376.2 L1452.0,378.2 L1452.0,380.2 L1452.0,382.2 L1452.0,384.2 L1452.0,386.2 L1452.0,388.2 L1452.0,390.2 L1452.0,392.2 L1452.0,394.2 L1452.0,396.2 L1452.0,398.2 L1452.0,400.2 L1452.0,402.2 L1452.0,404.2 L1452.0,406.2 L1452.0,408.2 L1452.0,410.2 L1452.0,412.2 L1452.0,414.2 L1452.0,416.2 L1452.0,418.2 L1451.9,420.2 L1451.9,422.2 L1451.9,424.2 L1451.9,426.2 L1451.9,428.2 L1451.9,430.2 L1451.9,432.2 L1451.9,434.2 L1451.9,436.2 L1451.9,438.2 L1451.9,440.2 L1451.9,442.2 L1451.9,444.2 L1451.9,446.2 L1451.9,448.2 L1451.9,450.2 L1451.9,452.2 L1451.9,454.2 L1451.9,456.2 L1451.9,458.2 L1451.9,460.2 L1451.9,462.2 L1451.9,464.2 L1451.9,466.2 L1451.9,468.2 L1452.0,470.2 L1452.0,472.2 L1452.0,474.2 L1452.0,476.2 L1452.0,478.2 L1452.0,480.2 L1452.0,482.2 L1452.0,484.2 L1452.0,486.2 L1452.0,488.2 L1452.0,490.2 L1452.0,492.2 L1452.0,494.2 L1452.0,496.2 L1452.0,498.2 L1452.0,500.2 L1452.0,502.2 L1452.0,504.3 L1452.1,506.3 L1452.1,508.3 L1452.1,510.3 L1452.1,512.3 L1452.1,514.3 L1452.1,516.3 L1452.1,518.3 L1452.1,520.3 L1452.1,522.3 L1452.2,524.3 L1452.2,526.3 L1452.2,528.3 L1452.2,530.3 L1452.2,532.3 L1452.2,534.3 L1452.3,536.3 L1452.3,538.3 L1452.3,540.3 L1452.3,542.3 L1452.3,544.3 L1452.3,546.3 L1452.4,548.3 L1452.4,550.3 L1452.4,552.3 L1452.4,554.3 L1452.5,556.3 L1452.5,558.3 L1452.5,560.3 L1452.5,562.3 L1452.6,564.3 L1452.6,566.3 L1452.6,568.3 L1452.6,570.3 L1452.7,572.3 L1452.7,574.3 L1452.7,576.3 L1452.7,578.3 L1452.8,580.3 L1452.8,582.3 L1452.8,584.3 L1452.9,586.3 L1452.9,588.3 L1452.9,590.3 L1453.0,592.3 L1453.0,594.3 L1453.1,596.3 L1453.1,598.3 L1453.1,600.3 L1453.2,602.3 L1453.2,604.3 L1453.3,606.3 L1453.3,608.3 L1453.3,610.3 L1453.4,612.3 L1453.4,614.3 L1453.5,616.3 L1453.5,618.3 L1453.6,620.3 L1453.6,622.3 L1453.7,624.3 L1453.7,626.3 L1453.8,628.3 L1453.8,630.3 L1453.9,632.3 L1453.9,634.3 L1454.0,636.3 L1454.0,638.3 L1454.1,640.3 L1454.1,642.3 L1454.2,644.3 L1454.3,646.3 L1454.3,648.3 L1454.4,650.3 L1454.4,652.3 L1454.5,654.3 L1454.6,656.3 L1454.6,658.3 L1454.7,660.3 L1454.8,662.3 L1454.8,664.3 L1454.9,666.3 L1455.0,668.3 L1455.1,670.3 L1455.1,672.3 L1455.2,674.3 L1455.3,676.3 L1455.4,678.3 L1455.4,680.3 L1455.5,682.3 L1455.6,684.3 L1455.7,686.3 L1455.8,688.3 L1455.8,690.3 L1455.9,692.3 L1456.0,694.3 L1456.1,696.3 L1456.2,698.3 L1456.3,700.3 L1456.4,702.3 L1456.5,704.3 L1456.6,706.3 L1456.7,708.3 L1456.7,710.3 L1456.8,712.3 L1456.9,714.3 L1457.0,716.3 L1457.1,718.3 L1457.2,720.3 L1457.3,722.3 L1457.5,724.3 L1457.6,726.3 L1457.7,728.3 L1457.8,730.3 L1457.9,732.3 L1458.0,734.3 L1458.1,736.3 L1458.2,738.3 L1458.3,740.3 L1458.5,742.3 L1458.6,744.3 L1458.7,746.3 L1458.8,748.3 L1458.9,750.3 L1459.1,752.3 L1459.2,754.3 L1459.3,756.3 L1459.4,758.3 L1459.6,760.3 L1459.7,762.3 L1459.8,764.3 L1460.0,766.3 L1460.1,768.3 L1460.2,770.3 L1460.4,772.3 L1460.5,774.3 L1460.7,776.3 L1460.8,778.3 L1461.0,780.3 L1461.1,782.3 L1461.3,784.3 L1461.4,786.3 L1461.6,788.2 L1461.7,790.2 L1461.9,792.2 L1462.0,794.2 L1462.2,796.2 L1462.3,798.2 L1462.5,800.2 L1462.7,802.2 L1462.8,804.2 L1463.0,806.2 L1463.2,808.2 L1463.3,810.2 L1463.5,812.2 L1463.7,814.0 L1463.9,815.5 L1464.1,816.0 L1464.3,815.3 L1464.5,813.8 L1464.8,811.9 L1465.0,809.9 L1465.3,807.9 L1465.5,805.9 L1465.7,803.9 L1466.0,801.9 L1466.2,800.0 L1466.4,798.0 L1466.7,796.0 L1466.9,794.0 L1467.1,792.0 L1467.4,790.0 L1467.6,788.0 L1467.8,786.0 L1468.1,784.0 L1468.3,782.1 L1468.5,780.1 L1468.7,778.1 L1468.9,776.1 L1469.2,774.1 L1469.4,772.1 L1469.6,770.1 L1469.8,768.1 L1470.0,766.1 L1470.2,764.1 L1470.4,762.2 L1470.6,760.2 L1470.8,758.2 L1471.0,756.2 L1471.2,754.2 L1471.4,752.2 L1471.6,750.2 L1471.8,748.2 L1472.0,746.2 L1472.2,744.2 L1472.4,742.2 L1472.6,740.3 L1472.8,738.3 L1473.0,736.3 L1473.2,734.3 L1473.4,732.3 L1473.6,730.3 L1473.8,728.3 L1474.0,726.3 L1474.1,724.3 L1474.3,722.3 L1474.5,720.3 L1474.7,718.3 L1474.9,716.3 L1475.0,714.3 L1475.2,712.4 L1475.4,710.4 L1475.6,708.4 L1475.7,706.4 L1475.9,704.4 L1476.1,702.4 L1476.3,700.4 L1476.4,698.4 L1476.6,696.4 L1476.8,694.4 L1476.9,692.4 L1477.1,690.4 L1477.3,688.4 L1477.4,686.4 L1477.6,684.4 L1477.8,682.4 L1477.9,680.4 L1478.1,678.4 L1478.2,676.5 L1478.4,674.5 L1478.6,672.5 L1478.7,670.5 L1478.9,668.5 L1479.0,666.5 L1479.2,664.5 L1479.3,662.5 L1479.5,660.5 L1479.6,658.5 L1479.8,656.5 L1479.9,654.5 L1480.1,652.5 L1480.2,650.5 L1480.4,648.5 L1480.5,646.5 L1480.7,644.5 L1480.8,642.5 L1481.0,640.5 L1481.1,638.5 L1481.2,636.5 L1481.4,634.5 L1481.5,632.5 L1481.7,630.5 L1481.8,628.5 L1482.0,626.6 L1482.1,624.6 L1482.2,622.6 L1482.4,620.6 L1482.5,618.6 L1482.6,616.6 L1482.8,614.6 L1482.9,612.6 L1483.0,610.6 L1483.2,608.6 L1483.3,606.6 L1483.4,604.6 L1483.6,602.6 L1483.7,600.6 L1483.8,598.6 L1484.0,596.6 L1484.1,594.6 L1484.2,592.6 L1484.4,590.6 L1484.5,588.6 L1484.6,586.6 L1484.7,584.6 L1484.9,582.6 L1485.0,580.6 L1485.1,578.6 L1485.3,576.6 L1485.4,574.6 L1485.5,572.6 L1485.6,570.6 L1485.8,568.6 L1485.9,566.6 L1486.0,564.6 L1486.1,562.6 L1486.2,560.6 L1486.4,558.6 L1486.5,556.6 L1486.6,554.6 L1486.7,552.6 L1486.9,550.7 L1487.0,548.7 L1487.1,546.7 L1487.2,544.7 L1487.3,542.7 L1487.5,540.7 L1487.6,538.7 L1487.7,536.7 L1487.8,534.7 L1487.9,532.7 L1488.1,530.7 L1488.2,528.7 L1488.3,526.7 L1488.4,524.7 L1488.5,522.7 L1488.6,520.7 L1488.8,518.7 L1488.9,516.7 L1489.0,514.7 L1489.1,512.7 L1489.2,510.7 L1489.4,508.7 L1489.5,506.7 L1489.6,504.7 L1489.7,502.7 L1489.8,500.7 L1489.9,498.7 L1490.0,496.7 L1490.2,494.7 L1490.3,492.7 L1490.4,490.7 L1490.5,488.7 L1490.6,486.7 L1490.7,484.7 L1490.8,482.7 L1491.0,480.7 L1491.1,478.7 L1491.2,476.7 L1491.3,474.7 L1491.4,472.7 L1491.5,470.7 L1491.6,468.7 L1491.8,466.7 L1491.9,464.7 L1492.0,462.7 L1492.1,460.7 L1492.2,458.7 L1492.3,456.7 L1492.4,454.7 L1492.5,452.7 L1492.7,450.7 L1492.8,448.7 L1492.9,446.7 L1493.0,444.7 L1493.1,442.7 L1493.2,440.8 L1493.3,438.8 L1493.4,436.8 L1493.5,434.8 L1493.6,432.8 L1493.8,430.8 L1493.9,428.8 L1494.0,426.8 L1494.1,424.8 L1494.2,422.8 L1494.3,420.8 L1494.4,418.8 L1494.5,416.8 L1494.6,414.8 L1494.7,412.8 L1494.9,410.8 L1495.0,408.8 L1495.1,406.8 L1495.2,404.8 L1495.3,402.8 L1495.4,400.8 L1495.5,398.8 L1495.6,396.8 L1495.7,394.8 L1495.8,392.8 L1496.0,390.8 L1496.1,388.8 L1496.2,386.8 L1496.3,384.8 L1496.4,382.8 L1496.5,380.8 L1496.6,378.8 L1496.7,376.8 L1496.8,374.8 L1496.9,372.8 L1497.0,370.8 L1497.1,368.8 L1497.3,366.8 L1497.4,364.8 L1497.5,362.8 L1497.6,360.8 L1497.7,358.8 L1497.8,356.8 L1497.9,354.8 L1498.0,352.8 L1498.1,350.8 L1498.2,348.8 L1498.3,346.8 L1498.5,344.8 L1498.6,342.8 L1498.7,340.8 L1498.8,338.8 L1498.9,336.8 L1499.0,334.8 L1499.1,332.8 L1499.2,330.8 L1499.3,328.8 L1499.4,326.8 L1499.5,324.8 L1499.7,322.8 L1499.8,320.8 L1499.9,318.8 L1500.0,316.8 L1500.1,314.8 L1500.2,312.8 L1500.3,310.8 L1500.4,308.8 L1500.5,306.8 L1500.6,304.9 L1500.7,302.9 L1500.9,300.9 L1501.0,298.9 L1501.1,296.9 L1501.2,294.9 L1501.3,292.9 L1501.4,290.9 L1501.5,288.9 L1501.6,286.9 L1501.7,284.9 L1501.9,282.9 L1502.0,280.9 L1502.1,278.9 L1502.2,276.9 L1502.3,274.9 L1502.4,272.9 L1502.5,270.9 L1502.6,268.9 L1502.7,266.9 L1502.9,264.9 L1503.0,262.9 L1503.1,260.9 L1503.2,258.9 L1503.3,256.9 L1503.4,254.9 L1503.5,252.9 L1503.6,250.9 L1503.8,248.9 L1503.9,246.9 L1504.0,244.9 L1504.1,242.9 L1504.2,240.9 L1504.3,238.9 L1504.4,236.9 L1504.6,234.9 L1504.7,232.9 L1504.8,230.9 L1504.9,228.9 L1505.0,226.9 L1505.1,224.9 L1505.2,222.9 L1505.4,220.9 L1505.5,218.9 L1505.6,216.9 L1505.7,214.9 L1505.8,212.9 L1505.9,210.9 L1506.1,208.9 L1506.2,206.9 L1506.3,204.9 L1506.4,202.9 L1506.5,200.9 L1506.6,198.9 L1506.8,196.9 L1506.9,194.9 L1507.0,192.9 L1507.1,190.9 L1507.2,188.9 L1507.4,187.0 L1507.5,185.0 L1507.6,183.0 L1507.7,181.0 L1507.8,179.0 L1508.0,177.0 L1508.1,175.0 L1508.2,173.0 L1508.3,171.0 L1508.5,169.0 L1508.6,167.0 L1508.7,165.0 L1508.8,163.0 L1508.9,161.0 L1509.1,159.0 L1509.2,157.0 L1509.3,155.0 L1509.4,153.0 L1509.6,151.0 L1509.7,149.0 L1509.8,147.1 L1509.9,145.6 L1510.0,144.0" stroke-width="3.8"/>
<path d="M1544.4,144.0 L1544.4,147.1 L1544.4,148.6 L1544.4,150.3 L1544.4,152.1 L1544.4,154.1 L1544.4,156.0 L1544.4,158.0 L1544.4,160.0 L1544.4,162.0 L1544.4,164.0 L1544.4,166.0 L1544.4,168.0 L1544.4,170.0 L1544.4,172.0 L1544.4,174.0 L1544.4,176.0 L1544.4,178.0 L1544.4,180.0 L1544.4,182.0 L1544.4,184.0 L1544.4,186.0 L1544.4,188.0 L1544.4,190.1 L1544.4,192.1 L1544.4,194.1 L1544.4,196.1 L1544.4,198.1 L1544.4,200.1 L1544.4,202.1 L1544.4,204.1 L1544.4,206.1 L1544.4,208.1 L1544.4,210.1 L1544.4,212.1 L1544.4,214.1 L1544.4,216.1 L1544.4,218.1 L1544.4,220.1 L1544.4,222.1 L1544.4,224.1 L1544.4,226.1 L1544.4,228.1 L1544.4,230.1 L1544.4,232.1 L1544.4,234.1 L1544.4,236.1 L1544.4,238.1 L1544.4,240.1 L1544.4,242.1 L1544.4,244.1 L1544.4,246.1 L1544.4,248.1 L1544.4,250.1 L1544.4,252.1 L1544.4,254.1 L1544.4,256.1 L1544.4,258.1 L1544.4,260.1 L1544.4,262.1 L1544.4,264.1 L1544.4,266.1 L1544.4,268.1 L1544.4,270.1 L1544.4,272.1 L1544.4,274.1 L1544.4,276.1 L1544.4,278.1 L1544.4,280.2 L1544.4,282.2 L1544.5,284.2 L1544.5,286.2 L1544.5,288.2 L1544.5,290.2 L1544.5,292.2 L1544.5,294.2 L1544.5,296.2 L1544.5,298.2 L1544.5,300.2 L1544.5,302.2 L1544.5,304.2 L1544.5,306.2 L1544.5,308.2 L1544.5,310.2 L1544.5,312.2 L1544.5,314.2 L1544.5,316.2 L1544.5,318.2 L1544.5,320.2 L1544.5,322.2 L1544.5,324.2 L1544.5,326.2 L1544.5,328.2 L1544.5,330.2 L1544.5,332.2 L1544.5,334.2 L1544.5,336.2 L1544.5,338.2 L1544.5,340.2 L1544.5,342.2 L1544.5,344.2 L1544.5,346.2 L1544.5,348.2 L1544.5,350.2 L1544.5,352.2 L1544.5,354.2 L1544.5,356.2 L1544.5,358.2 L1544.5,360.2 L1544.5,362.2 L1544.5,364.2 L1544.5,366.2 L1544.5,368.2 L1544.5,370.3 L1544.5,372.3 L1544.5,374.3 L1544.5,376.3 L1544.5,378.3 L1544.6,380.3 L1544.6,382.3 L1544.6,384.3 L1544.6,386.3 L1544.6,388.3 L1544.6,390.3 L1544.6,392.3 L1544.6,394.3 L1544.6,396.3 L1544.6,398.3 L1544.6,400.3 L1544.6,402.3 L1544.6,404.3 L1544.6,406.3 L1544.6,408.3 L1544.6,410.3 L1544.6,412.3 L1544.6,414.3 L1544.6,416.3 L1544.6,418.3 L1544.6,420.3 L1544.6,422.3 L1544.6,424.3 L1544.6,426.3 L1544.6,428.3 L1544.6,430.3 L1544.6,432.3 L1544.6,434.3 L1544.6,436.3 L1544.6,438.3 L1544.6,440.3 L1544.7,442.3 L1544.7,444.3 L1544.7,446.3 L1544.7,448.3 L1544.7,450.3 L1544.7,452.3 L1544.7,454.3 L1544.7,456.3 L1544.7,458.3 L1544.7,460.4 L1544.7,462.4 L1544.7,464.4 L1544.7,466.4 L1544.7,468.4 L1544.7,470.4 L1544.7,472.4 L1544.7,474.4 L1544.7,476.4 L1544.7,478.4 L1544.7,480.4 L1544.7,482.4 L1544.7,484.4 L1544.7,486.4 L1544.7,488.4 L1544.8,490.4 L1544.8,492.4 L1544.8,494.4 L1544.8,496.4 L1544.8,498.4 L1544.8,500.4 L1544.8,502.4 L1544.8,504.4 L1544.8,506.4 L1544.8,508.4 L1544.8,510.4 L1544.8,512.4 L1544.8,514.4 L1544.8,516.4 L1544.8,518.4 L1544.8,520.4 L1544.8,522.4 L1544.8,524.4 L1544.8,526.4 L1544.8,528.4 L1544.8,530.4 L1544.9,532.4 L1544.9,534.4 L1544.9,536.4 L1544.9,538.4 L1544.9,540.4 L1544.9,542.4 L1544.9,544.4 L1544.9,546.4 L1544.9,548.4 L1544.9,550.5 L1544.9,552.5 L1544.9,554.5 L1544.9,556.5 L1544.9,558.5 L1544.9,560.5 L1544.9,562.5 L1544.9,564.5 L1544.9,566.5 L1545.0,568.5 L1545.0,570.5 L1545.0,572.5 L1545.0,574.5 L1545.0,576.5 L1545.0,578.5 L1545.0,580.5 L1545.0,582.5 L1545.0,584.5 L1545.0,586.5 L1545.0,588.5 L1545.0,590.5 L1545.0,592.5 L1545.0,594.5 L1545.0,596.5 L1545.0,598.5 L1545.1,600.5 L1545.1,602.5 L1545.1,604.5 L1545.1,606.5 L1545.1,608.5 L1545.1,610.5 L1545.1,612.5 L1545.1,614.5 L1545.1,616.5 L1545.1,618.5 L1545.1,620.5 L1545.1,622.5 L1545.1,624.5 L1545.1,626.5 L1545.1,628.5 L1545.2,630.5 L1545.2,632.5 L1545.2,634.5 L1545.2,636.5 L1545.2,638.5 L1545.2,640.5 L1545.2,642.6 L1545.2,644.6 L1545.2,646.6 L1545.2,648.6 L1545.2,650.6 L1545.2,652.6 L1545.2,654.6 L1545.2,656.6 L1545.3,658.6 L1545.3,660.6 L1545.3,662.6 L1545.3,664.6 L1545.3,666.6 L1545.3,668.6 L1545.3,670.6 L1545.3,672.6 L1545.3,674.6 L1545.3,676.6 L1545.3,678.6 L1545.3,680.6 L1545.4,682.6 L1545.4,684.6 L1545.4,686.6 L1545.4,688.6 L1545.4,690.6 L1545.4,692.6 L1545.4,694.6 L1545.4,696.6 L1545.4,698.6 L1545.4,700.6 L1545.4,702.6 L1545.4,704.6 L1545.5,706.6 L1545.5,708.6 L1545.5,710.6 L1545.5,712.6 L1545.5,714.6 L1545.5,716.6 L1545.5,718.6 L1545.5,720.6 L1545.5,722.6 L1545.5,724.6 L1545.5,726.6 L1545.5,728.6 L1545.6,730.6 L1545.6,732.7 L1545.6,734.7 L1545.6,736.7 L1545.6,738.7 L1545.6,740.7 L1545.6,742.7 L1545.6,744.7 L1545.6,746.7 L1545.6,748.7 L1545.7,750.7 L1545.7,752.7 L1545.7,754.7 L1545.7,756.7 L1545.7,758.7 L1545.7,760.7 L1545.7,762.7 L1545.7,764.7 L1545.7,766.7 L1545.7,768.7 L1545.7,770.7 L1545.8,772.7 L1545.8,774.7 L1545.8,776.7 L1545.8,778.7 L1545.8,780.7 L1545.8,782.7 L1545.8,784.7 L1545.8,786.7 L1545.8,788.7 L1545.9,790.7 L1545.9,792.7 L1545.9,794.7 L1545.9,796.7 L1545.9,798.7 L1545.9,800.7 L1545.9,802.7 L1545.9,804.7 L1545.9,806.7 L1545.9,808.7 L1546.0,810.7 L1546.0,812.7 L1546.0,814.7 L1546.0,816.7 L1546.0,818.7 L1546.0,820.7 L1546.0,822.8 L1546.0,824.8 L1546.0,826.8 L1546.1,828.8 L1546.1,830.8 L1546.1,832.8 L1546.1,834.8 L1546.1,836.8 L1546.1,838.8 L1546.1,840.8 L1546.1,842.8 L1546.2,844.8 L1546.2,846.8 L1546.2,848.8 L1546.2,850.8 L1546.2,852.8 L1546.2,854.8 L1546.2,856.8 L1546.2,858.8 L1546.2,860.8 L1546.3,862.8 L1546.3,864.8 L1546.3,866.8 L1546.3,868.8 L1546.3,870.8 L1546.3,872.8 L1546.3,874.8 L1546.3,876.8 L1546.4,878.8 L1546.4,880.8 L1546.4,882.8 L1546.4,884.8 L1546.4,886.8 L1546.4,888.8 L1546.4,890.8 L1546.5,892.8 L1546.5,894.8 L1546.5,896.8 L1546.5,898.8 L1546.5,900.8 L1546.5,902.8 L1546.5,904.8 L1546.5,906.8 L1546.6,908.8 L1546.6,910.8 L1546.6,912.8 L1546.6,914.9 L1546.6,916.9 L1546.6,918.9 L1546.6,920.9 L1546.7,922.9 L1546.7,924.9 L1546.7,926.9 L1546.7,928.9 L1546.7,930.9 L1546.7,932.9 L1546.7,934.9 L1546.7,936.9 L1546.8,938.9 L1546.8,940.9 L1546.8,942.9 L1546.8,944.9 L1546.8,946.9 L1546.8,948.9 L1546.8,950.9 L1546.9,952.9 L1546.9,954.9 L1546.9,956.9 L1546.9,958.9 L1546.9,960.9 L1546.9,962.9 L1547.0,964.9 L1547.0,966.9 L1547.0,968.9 L1547.0,970.9 L1547.0,972.9 L1547.0,974.9 L1547.0,976.9 L1547.1,978.9 L1547.1,980.9 L1547.1,982.9 L1547.1,984.9 L1547.1,986.9 L1547.1,988.9 L1547.2,990.9 L1547.2,992.9 L1547.2,994.9 L1547.2,996.9 L1547.2,998.9 L1547.2,1000.9 L1547.2,1002.9 L1547.3,1004.9 L1547.3,1007.0 L1547.3,1009.0 L1547.3,1011.0 L1547.3,1013.0 L1547.3,1015.0 L1547.4,1017.0 L1547.4,1019.0 L1547.4,1021.0 L1547.4,1023.0 L1547.4,1025.0 L1547.4,1027.0 L1547.5,1029.0 L1547.5,1031.0 L1547.5,1033.0 L1547.5,1035.0 L1547.5,1037.0 L1547.5,1039.0 L1547.6,1041.0 L1547.6,1043.0 L1547.6,1045.0 L1547.6,1047.0 L1547.7,1049.0 L1547.7,1050.9 L1547.8,1052.7 L1547.8,1054.4 L1547.9,1055.9 L1548.0,1059.0 L1548.0,1059.0" stroke-width="5.2"/>
<path d="M1548.0,1059.0 L1558.0,1059.0" stroke-width="3.5"/>
</g>
<g clip-path="url(#ax)">
<line x1="399" y1="144" x2="399" y2="1068" stroke="#0000ff" stroke-width="4"/>
<line x1="1342" y1="144" x2="1342" y2="1068" stroke="#0000ff" stroke-width="4"/>
<line x1="225" y1="718.5" x2="1621" y2="718.5" stroke="#008000" stroke-width="4"/>
<line x1="225" y1="550" x2="1621" y2="550" stroke="#ffa500" stroke-width="2"/>
<line x1="225" y1="660" x2="1621" y2="660" stroke="#ffa500" stroke-width="2"/>
</g>
<g clip-path="url(#ax)" fill="none" stroke="#ffff00" stroke-linecap="round" stroke-linejoin="round">
<polyline points="1335.0,630.0 1342.5,555.0" stroke-width="14.5" stroke-opacity="0.45"/>
<polyline points="665.5,550.0 665.5,716.0" stroke-width="14.5" stroke-opacity="0.45"/>
<polyline points="809.0,552.0 809.0,712.0" stroke-width="14.5" stroke-opacity="0.45"/>
<polyline points="969.0,665.0 969.0,695.0" stroke-width="14.5" stroke-opacity="0.45"/>
<polyline points="1131.7,566.0 1131.7,676.0" stroke-width="14.5" stroke-opacity="0.45"/>
<polyline points="1292.0,555.0 1292.0,632.0" stroke-width="14.5" stroke-opacity="0.45"/>
<polyline points="400.0,702.0 400.0,713.5" stroke-width="14.5" stroke-opacity="0.45"/>
<polyline points="518.0,697.0 518.0,717.0" stroke-width="14.5" stroke-opacity="0.45"/>
<path d="M613.3,716.0 L614.5,713.1 L615.0,711.7 L615.7,710.1 L616.4,708.4 L617.2,706.6 L618.0,704.8 L618.8,703.0 L619.7,701.2 L620.5,699.3 L621.4,697.5 L622.3,695.7 L623.2,693.9 L624.1,692.1 L625.0,690.3 L626.0,688.5 L626.9,686.7 L627.9,685.0 L628.9,683.2 L629.9,681.5 L630.9,679.7 L631.9,678.0 L632.9,676.2 L634.0,674.5 L635.0,672.7 L636.0,671.0 L637.1,669.3 L638.1,667.6 L639.2,665.8 L640.3,664.2 L641.4,662.5 L642.6,660.9 L643.9,659.4 L645.3,657.9 L646.7,656.6 L648.2,655.3 L649.8,654.3 L651.5,653.4 L653.1,652.9 L654.8,652.7 L656.5,652.9 L658.0,653.5 L659.5,654.5 L660.7,655.8 L661.8,657.3 L662.7,659.0 L663.4,660.8 L663.9,662.7 L664.4,664.6 L664.8,666.6 L665.0,668.6 L665.3,670.6 L665.4,672.6 L665.6,674.6 L665.7,676.6 L665.7,678.6 L665.8,680.7 L665.9,682.7 L665.9,684.7 L665.9,686.7 L666.0,688.7 L666.0,690.8 L666.0,692.8 L666.0,694.8 L666.0,696.8 L666.0,698.8 L666.0,700.9 L666.0,702.9 L666.0,704.9 L666.0,706.8 L666.0,708.8 L666.0,710.5 L666.0,712.1 L666.0,713.4 L666.0,716.0" stroke-width="14.5" stroke-opacity="0.93"/>
<path d="M763.3,713.3 L764.4,710.3 L765.0,709.0 L765.6,707.4 L766.3,705.7 L767.0,703.9 L767.7,702.0 L768.5,700.2 L769.2,698.3 L770.0,696.4 L770.7,694.5 L771.5,692.7 L772.3,690.8 L773.1,689.0 L773.8,687.1 L774.6,685.2 L775.4,683.4 L776.2,681.5 L777.0,679.7 L777.8,677.8 L778.6,676.0 L779.4,674.1 L780.2,672.3 L781.0,670.4 L781.8,668.6 L782.7,666.8 L783.6,664.9 L784.5,663.1 L785.4,661.3 L786.3,659.6 L787.3,657.8 L788.3,656.1 L789.3,654.3 L790.4,652.6 L791.5,650.9 L792.6,649.3 L793.7,647.7 L795.0,646.2 L796.2,644.9 L797.6,643.9 L799.1,643.2 L800.6,643.0 L802.1,643.3 L803.6,643.9 L804.9,645.0 L805.9,646.4 L806.8,648.0 L807.5,649.7 L807.9,651.6 L808.3,653.6 L808.5,655.5 L808.6,657.5 L808.6,659.6 L808.7,661.6 L808.7,663.6 L808.7,665.6 L808.7,667.6 L808.7,669.6 L808.7,671.7 L808.7,673.7 L808.7,675.7 L808.7,677.7 L808.7,679.7 L808.7,681.7 L808.7,683.8 L808.7,685.8 L808.7,687.8 L808.7,689.8 L808.7,691.8 L808.7,693.8 L808.7,695.9 L808.7,697.9 L808.7,699.9 L808.7,701.9 L808.7,703.8 L808.7,705.7 L808.7,707.4 L808.7,708.8 L808.7,712.0 L808.7,712.0" stroke-width="14.5" stroke-opacity="0.93"/>
<path d="M870.5,712.0 L871.2,708.9 L871.5,707.5 L871.8,705.8 L872.2,704.0 L872.6,702.1 L873.0,700.1 L873.4,698.2 L873.9,696.2 L874.3,694.2 L874.7,692.2 L875.2,690.3 L875.6,688.3 L876.0,686.3 L876.5,684.4 L876.9,682.4 L877.4,680.4 L877.8,678.4 L878.3,676.5 L878.7,674.5 L879.2,672.5 L879.6,670.6 L880.1,668.6 L880.5,666.6 L881.0,664.7 L881.5,662.7 L881.9,660.7 L882.4,658.8 L882.9,656.8 L883.4,654.8 L883.9,652.9 L884.3,650.9 L884.8,649.0 L885.3,647.0 L885.8,645.0 L886.3,643.1 L886.8,641.1 L887.3,639.2 L887.8,637.2 L888.3,635.3 L888.8,633.3 L889.3,631.3 L889.8,629.4 L890.3,627.4 L890.8,625.5 L891.3,623.5 L891.8,621.6 L892.3,619.6 L892.8,617.6 L893.3,615.7 L893.8,613.7 L894.3,611.8 L894.8,609.8 L895.3,607.9 L895.8,605.9 L896.3,603.9 L896.8,602.0 L897.3,600.0 L897.8,598.1 L898.3,596.1 L898.8,594.2 L899.4,592.2 L899.9,590.2 L900.4,588.3 L900.9,586.3 L901.4,584.4 L901.9,582.4 L902.4,580.5 L902.9,578.5 L903.4,576.6 L903.9,574.6 L904.4,572.6 L904.9,570.7 L905.5,568.7 L906.0,566.8 L906.5,564.8 L907.0,562.9 L907.5,560.9 L908.0,559.0 L908.5,557.1 L909.0,555.3 L909.4,553.7 L909.8,552.3 L910.6,549.2 L910.6,549.2" stroke-width="14.5" stroke-opacity="0.93"/>
<path d="M969.0,548.0 L969.0,665.0" stroke-width="14.5" stroke-opacity="0.93"/>
<path d="M1036.7,695.0 L1061.7,548.3" stroke-width="14.5" stroke-opacity="0.93"/>
<path d="M1131.7,550.0 L1131.7,566.0" stroke-width="14.5" stroke-opacity="0.93"/>
<path d="M1182.5,670.0 L1196.2,549.0" stroke-width="14.5" stroke-opacity="0.93"/>
</g>
<rect x="225.5" y="144.5" width="1395" height="924" fill="none" stroke="#000" stroke-width="1.25"/>
<g stroke="#000" stroke-width="6"><line x1="208.5" y1="1059.0" x2="225.5" y2="1059.0"/><line x1="214.5" y1="1013.2" x2="225.5" y2="1013.2"/><line x1="214.5" y1="967.5" x2="225.5" y2="967.5"/><line x1="214.5" y1="921.8" x2="225.5" y2="921.8"/><line x1="208.5" y1="876.0" x2="225.5" y2="876.0"/><line x1="214.5" y1="830.2" x2="225.5" y2="830.2"/><line x1="214.5" y1="784.5" x2="225.5" y2="784.5"/><line x1="214.5" y1="738.8" x2="225.5" y2="738.8"/><line x1="208.5" y1="693.0" x2="225.5" y2="693.0"/><line x1="214.5" y1="647.2" x2="225.5" y2="647.2"/><line x1="214.5" y1="601.5" x2="225.5" y2="601.5"/><line x1="214.5" y1="555.8" x2="225.5" y2="555.8"/><line x1="208.5" y1="510.0" x2="225.5" y2="510.0"/><line x1="214.5" y1="464.2" x2="225.5" y2="464.2"/><line x1="214.5" y1="418.5" x2="225.5" y2="418.5"/><line x1="214.5" y1="372.8" x2="225.5" y2="372.8"/><line x1="208.5" y1="327.0" x2="225.5" y2="327.0"/><line x1="214.5" y1="281.2" x2="225.5" y2="281.2"/><line x1="214.5" y1="235.5" x2="225.5" y2="235.5"/><line x1="214.5" y1="189.8" x2="225.5" y2="189.8"/><line x1="208.5" y1="144.0" x2="225.5" y2="144.0"/><line x1="232.0" y1="1068" x2="232.0" y2="1079.0"/><line x1="264.5" y1="1068" x2="264.5" y2="1079.0"/><line x1="297.0" y1="1068" x2="297.0" y2="1079.0"/><line x1="329.5" y1="1068" x2="329.5" y2="1085.0"/><line x1="362.0" y1="1068" x2="362.0" y2="1079.0"/><line x1="394.5" y1="1068" x2="394.5" y2="1079.0"/><line x1="427.0" y1="1068" x2="427.0" y2="1079.0"/><line x1="459.5" y1="1068" x2="459.5" y2="1079.0"/><line x1="492.0" y1="1068" x2="492.0" y2="1085.0"/><line x1="524.5" y1="1068" x2="524.5" y2="1079.0"/><line x1="556.9" y1="1068" x2="556.9" y2="1079.0"/><line x1="589.4" y1="1068" x2="589.4" y2="1079.0"/><line x1="621.9" y1="1068" x2="621.9" y2="1079.0"/><line x1="654.4" y1="1068" x2="654.4" y2="1085.0"/><line x1="686.9" y1="1068" x2="686.9" y2="1079.0"/><line x1="719.4" y1="1068" x2="719.4" y2="1079.0"/><line x1="751.9" y1="1068" x2="751.9" y2="1079.0"/><line x1="784.4" y1="1068" x2="784.4" y2="1079.0"/><line x1="816.9" y1="1068" x2="816.9" y2="1085.0"/><line x1="849.4" y1="1068" x2="849.4" y2="1079.0"/><line x1="881.9" y1="1068" x2="881.9" y2="1079.0"/><line x1="914.4" y1="1068" x2="914.4" y2="1079.0"/><line x1="946.8" y1="1068" x2="946.8" y2="1079.0"/><line x1="979.3" y1="1068" x2="979.3" y2="1085.0"/><line x1="1011.8" y1="1068" x2="1011.8" y2="1079.0"/><line x1="1044.3" y1="1068" x2="1044.3" y2="1079.0"/><line x1="1076.8" y1="1068" x2="1076.8" y2="1079.0"/><line x1="1109.3" y1="1068" x2="1109.3" y2="1079.0"/><line x1="1141.8" y1="1068" x2="1141.8" y2="1085.0"/><line x1="1174.3" y1="1068" x2="1174.3" y2="1079.0"/><line x1="1206.8" y1="1068" x2="1206.8" y2="1079.0"/><line x1="1239.3" y1="1068" x2="1239.3" y2="1079.0"/><line x1="1271.8" y1="1068" x2="1271.8" y2="1079.0"/><line x1="1304.3" y1="1068" x2="1304.3" y2="1085.0"/><line x1="1336.8" y1="1068" x2="1336.8" y2="1079.0"/><line x1="1369.2" y1="1068" x2="1369.2" y2="1079.0"/><line x1="1401.7" y1="1068" x2="1401.7" y2="1079.0"/><line x1="1434.2" y1="1068" x2="1434.2" y2="1079.0"/><line x1="1466.7" y1="1068" x2="1466.7" y2="1085.0"/><line x1="1499.2" y1="1068" x2="1499.2" y2="1079.0"/><line x1="1531.7" y1="1068" x2="1531.7" y2="1079.0"/><line x1="1564.2" y1="1068" x2="1564.2" y2="1079.0"/><line x1="1596.7" y1="1068" x2="1596.7" y2="1079.0"/></g>
<text x="201.5" y="1072.8" font-size="37.8" text-anchor="end" textLength="22.1" lengthAdjust="spacingAndGlyphs">0</text>
<text x="201.5" y="889.8" font-size="37.8" text-anchor="end" textLength="66.2" lengthAdjust="spacingAndGlyphs">200</text>
<text x="201.5" y="706.8" font-size="37.8" text-anchor="end" textLength="66.2" lengthAdjust="spacingAndGlyphs">400</text>
<text x="201.5" y="523.8" font-size="37.8" text-anchor="end" textLength="66.2" lengthAdjust="spacingAndGlyphs">600</text>
<text x="201.5" y="340.8" font-size="37.8" text-anchor="end" textLength="66.2" lengthAdjust="spacingAndGlyphs">800</text>
<text x="201.5" y="157.8" font-size="37.8" text-anchor="end" textLength="88.3" lengthAdjust="spacingAndGlyphs">1000</text>
<text x="329.5" y="1116.8" font-size="37.8" text-anchor="middle" textLength="55.2" lengthAdjust="spacingAndGlyphs">0.1</text>
<text x="492.0" y="1116.8" font-size="37.8" text-anchor="middle" textLength="55.2" lengthAdjust="spacingAndGlyphs">0.2</text>
<text x="654.4" y="1116.8" font-size="37.8" text-anchor="middle" textLength="55.2" lengthAdjust="spacingAndGlyphs">0.3</text>
<text x="816.9" y="1116.8" font-size="37.8" text-anchor="middle" textLength="55.2" lengthAdjust="spacingAndGlyphs">0.4</text>
<text x="979.3" y="1116.8" font-size="37.8" text-anchor="middle" textLength="55.2" lengthAdjust="spacingAndGlyphs">0.5</text>
<text x="1141.8" y="1116.8" font-size="37.8" text-anchor="middle" textLength="55.2" lengthAdjust="spacingAndGlyphs">0.6</text>
<text x="1304.3" y="1116.8" font-size="37.8" text-anchor="middle" textLength="55.2" lengthAdjust="spacingAndGlyphs">0.7</text>
<text x="1466.7" y="1116.8" font-size="37.8" text-anchor="middle" textLength="55.2" lengthAdjust="spacingAndGlyphs">0.8</text>
<text x="922.9" y="1159.9" font-size="44" text-anchor="middle" textLength="204.7" lengthAdjust="spacingAndGlyphs">Age (Myr)</text>
<text transform="translate(97.9,605.2) rotate(-90)" font-size="44" text-anchor="middle" textLength="351.1" lengthAdjust="spacingAndGlyphs">FM period (days)</text>
<text x="1619" y="1139" font-size="15" text-anchor="end" textLength="68.8" lengthAdjust="spacingAndGlyphs">+6.243e3</text>
<text transform="translate(296.3,892.5) rotate(-45)" font-size="16.5" textLength="33.7" lengthAdjust="spacingAndGlyphs">n=1</text>
<text transform="translate(408.0,701.5) rotate(-45)" font-size="16.5" textLength="33.7" lengthAdjust="spacingAndGlyphs">n=2</text>
<text transform="translate(410.5,872.5) rotate(-45)" font-size="16.5" textLength="33.7" lengthAdjust="spacingAndGlyphs">n=3</text>
<text transform="translate(526.0,696.5) rotate(-45)" font-size="16.5" textLength="33.7" lengthAdjust="spacingAndGlyphs">n=4</text>
<text transform="translate(530.5,892.5) rotate(-45)" font-size="16.5" textLength="33.7" lengthAdjust="spacingAndGlyphs">n=5</text>
<text transform="translate(673.0,330.8) rotate(-45)" font-size="16.5" textLength="33.7" lengthAdjust="spacingAndGlyphs">n=6</text>
<text transform="translate(675.0,730.5) rotate(-45)" font-size="16.5" textLength="33.7" lengthAdjust="spacingAndGlyphs">n=7</text>
<text transform="translate(815.5,362.5) rotate(-45)" font-size="16.5" textLength="33.7" lengthAdjust="spacingAndGlyphs">n=8</text>
<text transform="translate(817.0,774.5) rotate(-45)" font-size="16.5" textLength="33.7" lengthAdjust="spacingAndGlyphs">n=9</text>
<text transform="translate(1141.0,427.8) rotate(-45)" font-size="16.5" textLength="43.9" lengthAdjust="spacingAndGlyphs">n=12</text>
<rect x="235.5" y="154.75" width="445.9" height="182.85" rx="3" fill="#fff" fill-opacity="0.8" stroke="#cccccc" stroke-width="1.2"/>
<line x1="242.7" y1="170.6" x2="286.2" y2="170.6" stroke="#000" stroke-width="1.6"/><circle cx="265.6" cy="170.6" r="2" fill="#000"/>
<line x1="242.7" y1="202.7" x2="286.2" y2="202.7" stroke="#0000ff" stroke-width="4"/>
<line x1="242.7" y1="232.8" x2="286.2" y2="232.8" stroke="#008000" stroke-width="4"/>
<line x1="242.7" y1="263.7" x2="286.2" y2="263.7" stroke="#ffa500" stroke-width="2"/>
<circle cx="265.6" cy="308.3" r="7.4" fill="#ffff00" fill-opacity="0.27"/>
<text x="303.1" y="179" font-size="22.5" textLength="160.7" lengthAdjust="spacingAndGlyphs">m1.10_z0.0140</text>
<text x="303.1" y="209.8" font-size="22.5" textLength="338.5" lengthAdjust="spacingAndGlyphs">peak detector horizontal bounds</text>
<text x="303.1" y="241" font-size="22.5" textLength="369.9" lengthAdjust="spacingAndGlyphs">min. P consistent with observations</text>
<text x="303.1" y="271.1" font-size="22.5" textLength="339.2" lengthAdjust="spacingAndGlyphs">max. P must fall within this span</text>
<text x="303.1" y="300.4" font-size="22.5" textLength="231.7" lengthAdjust="spacingAndGlyphs">intersection w/ P,L,T,R</text>
<text x="303.1" y="325" font-size="22.5" textLength="157.9" lengthAdjust="spacingAndGlyphs">loosely defined</text>
</svg></body></html>
